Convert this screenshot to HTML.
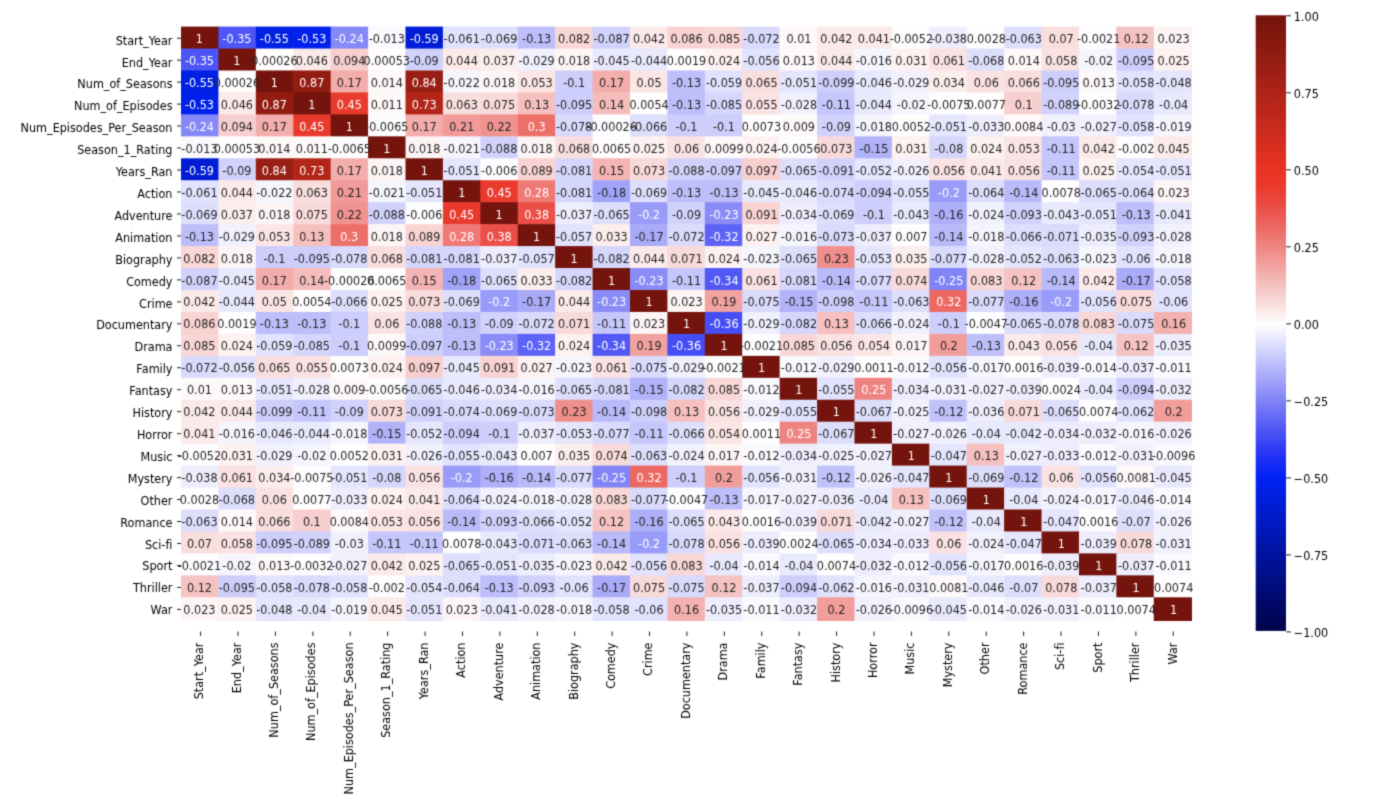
<!DOCTYPE html>
<html><head><meta charset="utf-8"><title>Correlation heatmap</title>
<style>html,body{margin:0;padding:0;background:#fff}svg{display:block}text{font-variant-ligatures:none;font-feature-settings:"liga" 0,"clig" 0}</style></head>
<body>
<svg width="1392" height="812" viewBox="0 0 1392 812" font-family="'DejaVu Sans', 'Liberation Sans', sans-serif" font-size="11.25px">
<defs><filter id="soft" x="0" y="0" width="100%" height="100%" color-interpolation-filters="sRGB"><feConvolveMatrix order="3" kernelMatrix="0.02560 0.10880 0.02560 0.10880 0.46240 0.10880 0.02560 0.10880 0.02560" divisor="1" edgeMode="duplicate" preserveAlpha="true"/></filter>
<linearGradient id="cb" x1="0" y1="0" x2="0" y2="1">
<stop offset="0.00000" stop-color="#74140c"/>
<stop offset="0.00781" stop-color="#76150c"/>
<stop offset="0.01562" stop-color="#7a160d"/>
<stop offset="0.02344" stop-color="#7e170e"/>
<stop offset="0.03125" stop-color="#81180e"/>
<stop offset="0.03906" stop-color="#85190f"/>
<stop offset="0.04688" stop-color="#891910"/>
<stop offset="0.05469" stop-color="#8c1a10"/>
<stop offset="0.06250" stop-color="#901b11"/>
<stop offset="0.07031" stop-color="#941c12"/>
<stop offset="0.07812" stop-color="#971d13"/>
<stop offset="0.08594" stop-color="#9b1e13"/>
<stop offset="0.09375" stop-color="#9f1f14"/>
<stop offset="0.10156" stop-color="#a32015"/>
<stop offset="0.10938" stop-color="#a62116"/>
<stop offset="0.11719" stop-color="#aa2216"/>
<stop offset="0.12500" stop-color="#ae2317"/>
<stop offset="0.13281" stop-color="#b12418"/>
<stop offset="0.14062" stop-color="#b52519"/>
<stop offset="0.14844" stop-color="#b92619"/>
<stop offset="0.15625" stop-color="#bc271a"/>
<stop offset="0.16406" stop-color="#c0281b"/>
<stop offset="0.17188" stop-color="#c4291b"/>
<stop offset="0.17969" stop-color="#c72a1c"/>
<stop offset="0.18750" stop-color="#cb2b1d"/>
<stop offset="0.19531" stop-color="#cf2c1e"/>
<stop offset="0.20312" stop-color="#d22d1e"/>
<stop offset="0.21094" stop-color="#d62e1f"/>
<stop offset="0.21875" stop-color="#da2f20"/>
<stop offset="0.22656" stop-color="#de3021"/>
<stop offset="0.23438" stop-color="#e13121"/>
<stop offset="0.24219" stop-color="#e53222"/>
<stop offset="0.25000" stop-color="#e93323"/>
<stop offset="0.25781" stop-color="#ea3425"/>
<stop offset="0.26562" stop-color="#ea3628"/>
<stop offset="0.27344" stop-color="#ea392b"/>
<stop offset="0.28125" stop-color="#ea3c2f"/>
<stop offset="0.28906" stop-color="#ea4035"/>
<stop offset="0.29688" stop-color="#eb443a"/>
<stop offset="0.30469" stop-color="#eb4940"/>
<stop offset="0.31250" stop-color="#eb4f47"/>
<stop offset="0.32031" stop-color="#eb554e"/>
<stop offset="0.32812" stop-color="#ec5b55"/>
<stop offset="0.33594" stop-color="#ec625c"/>
<stop offset="0.34375" stop-color="#ec6863"/>
<stop offset="0.35156" stop-color="#ed6f6a"/>
<stop offset="0.35938" stop-color="#ed7672"/>
<stop offset="0.36719" stop-color="#ee7d79"/>
<stop offset="0.37500" stop-color="#ee8481"/>
<stop offset="0.38281" stop-color="#ef8b88"/>
<stop offset="0.39062" stop-color="#f09390"/>
<stop offset="0.39844" stop-color="#f19a98"/>
<stop offset="0.40625" stop-color="#f1a29f"/>
<stop offset="0.41406" stop-color="#f2a9a7"/>
<stop offset="0.42188" stop-color="#f3b1af"/>
<stop offset="0.42969" stop-color="#f4b8b7"/>
<stop offset="0.43750" stop-color="#f5c0be"/>
<stop offset="0.44531" stop-color="#f6c7c6"/>
<stop offset="0.45312" stop-color="#f7cfce"/>
<stop offset="0.46094" stop-color="#f8d7d6"/>
<stop offset="0.46875" stop-color="#f9dede"/>
<stop offset="0.47656" stop-color="#fbe6e5"/>
<stop offset="0.48438" stop-color="#fceeed"/>
<stop offset="0.49219" stop-color="#fdf5f5"/>
<stop offset="0.50000" stop-color="#fffdfd"/>
<stop offset="0.50781" stop-color="#f9f9fe"/>
<stop offset="0.51562" stop-color="#f1f1fe"/>
<stop offset="0.52344" stop-color="#e9e9fd"/>
<stop offset="0.53125" stop-color="#e1e2fd"/>
<stop offset="0.53906" stop-color="#d9dafc"/>
<stop offset="0.54688" stop-color="#d1d2fb"/>
<stop offset="0.55469" stop-color="#c9cafb"/>
<stop offset="0.56250" stop-color="#c1c2fa"/>
<stop offset="0.57031" stop-color="#b9bafa"/>
<stop offset="0.57812" stop-color="#b1b3f9"/>
<stop offset="0.58594" stop-color="#a9abf9"/>
<stop offset="0.59375" stop-color="#a1a3f8"/>
<stop offset="0.60156" stop-color="#999bf8"/>
<stop offset="0.60938" stop-color="#9194f8"/>
<stop offset="0.61719" stop-color="#898cf7"/>
<stop offset="0.62500" stop-color="#8184f7"/>
<stop offset="0.63281" stop-color="#797df7"/>
<stop offset="0.64062" stop-color="#7175f6"/>
<stop offset="0.64844" stop-color="#696ef6"/>
<stop offset="0.65625" stop-color="#6167f6"/>
<stop offset="0.66406" stop-color="#595ff6"/>
<stop offset="0.67188" stop-color="#5158f6"/>
<stop offset="0.67969" stop-color="#4951f5"/>
<stop offset="0.68750" stop-color="#414af5"/>
<stop offset="0.69531" stop-color="#3944f5"/>
<stop offset="0.70312" stop-color="#313df5"/>
<stop offset="0.71094" stop-color="#2937f5"/>
<stop offset="0.71875" stop-color="#2132f5"/>
<stop offset="0.72656" stop-color="#192df5"/>
<stop offset="0.73438" stop-color="#1129f5"/>
<stop offset="0.74219" stop-color="#0926f5"/>
<stop offset="0.75000" stop-color="#0123f5"/>
<stop offset="0.75781" stop-color="#0022f0"/>
<stop offset="0.76562" stop-color="#0021eb"/>
<stop offset="0.77344" stop-color="#0020e5"/>
<stop offset="0.78125" stop-color="#001fe0"/>
<stop offset="0.78906" stop-color="#001eda"/>
<stop offset="0.79688" stop-color="#001dd5"/>
<stop offset="0.80469" stop-color="#001cd0"/>
<stop offset="0.81250" stop-color="#001bca"/>
<stop offset="0.82031" stop-color="#001ac5"/>
<stop offset="0.82812" stop-color="#0019c0"/>
<stop offset="0.83594" stop-color="#0018ba"/>
<stop offset="0.84375" stop-color="#0017b5"/>
<stop offset="0.85156" stop-color="#0016af"/>
<stop offset="0.85938" stop-color="#0015aa"/>
<stop offset="0.86719" stop-color="#0014a5"/>
<stop offset="0.87500" stop-color="#00139f"/>
<stop offset="0.88281" stop-color="#00129a"/>
<stop offset="0.89062" stop-color="#001194"/>
<stop offset="0.89844" stop-color="#00108f"/>
<stop offset="0.90625" stop-color="#000f8a"/>
<stop offset="0.91406" stop-color="#000e84"/>
<stop offset="0.92188" stop-color="#000d7f"/>
<stop offset="0.92969" stop-color="#000c7a"/>
<stop offset="0.93750" stop-color="#000b74"/>
<stop offset="0.94531" stop-color="#000a6f"/>
<stop offset="0.95312" stop-color="#000969"/>
<stop offset="0.96094" stop-color="#000864"/>
<stop offset="0.96875" stop-color="#00075f"/>
<stop offset="0.97656" stop-color="#000659"/>
<stop offset="0.98438" stop-color="#000554"/>
<stop offset="0.99219" stop-color="#00054e"/>
<stop offset="1.00000" stop-color="#000449"/>
</linearGradient></defs>
<g filter="url(#soft)">
<rect width="1392" height="812" fill="#fff"/>
<g>
<rect x="181.00" y="26.60" width="38.01" height="22.55" fill="#74140c"/>
<rect x="218.41" y="26.60" width="38.01" height="22.55" fill="#4d55f6"/>
<rect x="255.83" y="26.60" width="38.02" height="22.55" fill="#0020e3"/>
<rect x="293.25" y="26.60" width="38.01" height="22.55" fill="#0021eb"/>
<rect x="330.66" y="26.60" width="38.02" height="22.55" fill="#8588f7"/>
<rect x="368.07" y="26.60" width="38.02" height="22.55" fill="#f9f9fe"/>
<rect x="405.49" y="26.60" width="38.01" height="22.55" fill="#001dd5"/>
<rect x="442.90" y="26.60" width="38.02" height="22.55" fill="#e1e2fd"/>
<rect x="480.32" y="26.60" width="38.02" height="22.55" fill="#dddefc"/>
<rect x="517.74" y="26.60" width="38.01" height="22.55" fill="#bdbefa"/>
<rect x="555.15" y="26.60" width="38.02" height="22.55" fill="#f8d7d6"/>
<rect x="592.57" y="26.60" width="38.01" height="22.55" fill="#d1d2fb"/>
<rect x="629.98" y="26.60" width="38.01" height="22.55" fill="#fbeae9"/>
<rect x="667.39" y="26.60" width="38.01" height="22.55" fill="#f8d3d2"/>
<rect x="704.81" y="26.60" width="38.02" height="22.55" fill="#f8d7d6"/>
<rect x="742.23" y="26.60" width="38.01" height="22.55" fill="#d9dafc"/>
<rect x="779.64" y="26.60" width="38.01" height="22.55" fill="#fef9f9"/>
<rect x="817.05" y="26.60" width="38.02" height="22.55" fill="#fbeae9"/>
<rect x="854.47" y="26.60" width="38.01" height="22.55" fill="#fbeae9"/>
<rect x="891.88" y="26.60" width="38.01" height="22.55" fill="#fdfdff"/>
<rect x="929.30" y="26.60" width="38.02" height="22.55" fill="#ededfd"/>
<rect x="966.72" y="26.60" width="38.01" height="22.55" fill="#fffdfd"/>
<rect x="1004.13" y="26.60" width="38.02" height="22.55" fill="#dddefc"/>
<rect x="1041.55" y="26.60" width="38.01" height="22.55" fill="#f9dede"/>
<rect x="1078.96" y="26.60" width="38.01" height="22.55" fill="#fdfdff"/>
<rect x="1116.38" y="26.60" width="38.01" height="22.55" fill="#f5c3c2"/>
<rect x="1153.79" y="26.60" width="38.21" height="22.55" fill="#fdf5f5"/>
<rect x="181.00" y="48.55" width="38.01" height="22.55" fill="#4d55f6"/>
<rect x="218.41" y="48.55" width="38.01" height="22.55" fill="#74140c"/>
<rect x="255.83" y="48.55" width="38.02" height="22.55" fill="#fffdfd"/>
<rect x="293.25" y="48.55" width="38.01" height="22.55" fill="#fbeae9"/>
<rect x="330.66" y="48.55" width="38.02" height="22.55" fill="#f7cfce"/>
<rect x="368.07" y="48.55" width="38.02" height="22.55" fill="#fffdfd"/>
<rect x="405.49" y="48.55" width="38.01" height="22.55" fill="#d1d2fb"/>
<rect x="442.90" y="48.55" width="38.02" height="22.55" fill="#fbeae9"/>
<rect x="480.32" y="48.55" width="38.02" height="22.55" fill="#fceeed"/>
<rect x="517.74" y="48.55" width="38.01" height="22.55" fill="#f1f1fe"/>
<rect x="555.15" y="48.55" width="38.02" height="22.55" fill="#fdf5f5"/>
<rect x="592.57" y="48.55" width="38.01" height="22.55" fill="#e9e9fd"/>
<rect x="629.98" y="48.55" width="38.01" height="22.55" fill="#e9e9fd"/>
<rect x="667.39" y="48.55" width="38.01" height="22.55" fill="#fffdfd"/>
<rect x="704.81" y="48.55" width="38.02" height="22.55" fill="#fdf1f1"/>
<rect x="742.23" y="48.55" width="38.01" height="22.55" fill="#e1e2fd"/>
<rect x="779.64" y="48.55" width="38.01" height="22.55" fill="#fef9f9"/>
<rect x="817.05" y="48.55" width="38.02" height="22.55" fill="#fbeae9"/>
<rect x="854.47" y="48.55" width="38.01" height="22.55" fill="#f5f5fe"/>
<rect x="891.88" y="48.55" width="38.01" height="22.55" fill="#fdf1f1"/>
<rect x="929.30" y="48.55" width="38.02" height="22.55" fill="#fae2e2"/>
<rect x="966.72" y="48.55" width="38.01" height="22.55" fill="#dddefc"/>
<rect x="1004.13" y="48.55" width="38.02" height="22.55" fill="#fef9f9"/>
<rect x="1041.55" y="48.55" width="38.01" height="22.55" fill="#fae2e2"/>
<rect x="1078.96" y="48.55" width="38.01" height="22.55" fill="#f5f5fe"/>
<rect x="1116.38" y="48.55" width="38.01" height="22.55" fill="#cdcefb"/>
<rect x="1153.79" y="48.55" width="38.21" height="22.55" fill="#fdf1f1"/>
<rect x="181.00" y="70.50" width="38.01" height="22.55" fill="#0020e3"/>
<rect x="218.41" y="70.50" width="38.01" height="22.55" fill="#fffdfd"/>
<rect x="255.83" y="70.50" width="38.02" height="22.55" fill="#74140c"/>
<rect x="293.25" y="70.50" width="38.01" height="22.55" fill="#921c12"/>
<rect x="330.66" y="70.50" width="38.02" height="22.55" fill="#f3adab"/>
<rect x="368.07" y="70.50" width="38.02" height="22.55" fill="#fef9f9"/>
<rect x="405.49" y="70.50" width="38.01" height="22.55" fill="#991e13"/>
<rect x="442.90" y="70.50" width="38.02" height="22.55" fill="#f5f5fe"/>
<rect x="480.32" y="70.50" width="38.02" height="22.55" fill="#fdf5f5"/>
<rect x="517.74" y="70.50" width="38.01" height="22.55" fill="#fbe6e5"/>
<rect x="555.15" y="70.50" width="38.02" height="22.55" fill="#cdcefb"/>
<rect x="592.57" y="70.50" width="38.01" height="22.55" fill="#f3adab"/>
<rect x="629.98" y="70.50" width="38.01" height="22.55" fill="#fbe6e5"/>
<rect x="667.39" y="70.50" width="38.01" height="22.55" fill="#bdbefa"/>
<rect x="704.81" y="70.50" width="38.02" height="22.55" fill="#e1e2fd"/>
<rect x="742.23" y="70.50" width="38.01" height="22.55" fill="#f9dede"/>
<rect x="779.64" y="70.50" width="38.01" height="22.55" fill="#e5e5fd"/>
<rect x="817.05" y="70.50" width="38.02" height="22.55" fill="#cdcefb"/>
<rect x="854.47" y="70.50" width="38.01" height="22.55" fill="#e9e9fd"/>
<rect x="891.88" y="70.50" width="38.01" height="22.55" fill="#f1f1fe"/>
<rect x="929.30" y="70.50" width="38.02" height="22.55" fill="#fceeed"/>
<rect x="966.72" y="70.50" width="38.01" height="22.55" fill="#fae2e2"/>
<rect x="1004.13" y="70.50" width="38.02" height="22.55" fill="#f9dede"/>
<rect x="1041.55" y="70.50" width="38.01" height="22.55" fill="#cdcefb"/>
<rect x="1078.96" y="70.50" width="38.01" height="22.55" fill="#fef9f9"/>
<rect x="1116.38" y="70.50" width="38.01" height="22.55" fill="#e1e2fd"/>
<rect x="1153.79" y="70.50" width="38.21" height="22.55" fill="#e5e5fd"/>
<rect x="181.00" y="92.45" width="38.01" height="22.55" fill="#0021eb"/>
<rect x="218.41" y="92.45" width="38.01" height="22.55" fill="#fbeae9"/>
<rect x="255.83" y="92.45" width="38.02" height="22.55" fill="#921c12"/>
<rect x="293.25" y="92.45" width="38.01" height="22.55" fill="#74140c"/>
<rect x="330.66" y="92.45" width="38.02" height="22.55" fill="#ea3a2d"/>
<rect x="368.07" y="92.45" width="38.02" height="22.55" fill="#fef9f9"/>
<rect x="405.49" y="92.45" width="38.01" height="22.55" fill="#b32518"/>
<rect x="442.90" y="92.45" width="38.02" height="22.55" fill="#f9dede"/>
<rect x="480.32" y="92.45" width="38.02" height="22.55" fill="#f9dada"/>
<rect x="517.74" y="92.45" width="38.01" height="22.55" fill="#f5c0be"/>
<rect x="555.15" y="92.45" width="38.02" height="22.55" fill="#cdcefb"/>
<rect x="592.57" y="92.45" width="38.01" height="22.55" fill="#f4bcba"/>
<rect x="629.98" y="92.45" width="38.01" height="22.55" fill="#fffdfd"/>
<rect x="667.39" y="92.45" width="38.01" height="22.55" fill="#bdbefa"/>
<rect x="704.81" y="92.45" width="38.02" height="22.55" fill="#d5d6fc"/>
<rect x="742.23" y="92.45" width="38.01" height="22.55" fill="#fae2e2"/>
<rect x="779.64" y="92.45" width="38.01" height="22.55" fill="#f1f1fe"/>
<rect x="817.05" y="92.45" width="38.02" height="22.55" fill="#c5c6fb"/>
<rect x="854.47" y="92.45" width="38.01" height="22.55" fill="#e9e9fd"/>
<rect x="891.88" y="92.45" width="38.01" height="22.55" fill="#f5f5fe"/>
<rect x="929.30" y="92.45" width="38.02" height="22.55" fill="#fdfdff"/>
<rect x="966.72" y="92.45" width="38.01" height="22.55" fill="#fffdfd"/>
<rect x="1004.13" y="92.45" width="38.02" height="22.55" fill="#f7cfce"/>
<rect x="1041.55" y="92.45" width="38.01" height="22.55" fill="#d1d2fb"/>
<rect x="1078.96" y="92.45" width="38.01" height="22.55" fill="#fdfdff"/>
<rect x="1116.38" y="92.45" width="38.01" height="22.55" fill="#d9dafc"/>
<rect x="1153.79" y="92.45" width="38.21" height="22.55" fill="#e9e9fd"/>
<rect x="181.00" y="114.40" width="38.01" height="22.55" fill="#8588f7"/>
<rect x="218.41" y="114.40" width="38.01" height="22.55" fill="#f7cfce"/>
<rect x="255.83" y="114.40" width="38.02" height="22.55" fill="#f3adab"/>
<rect x="293.25" y="114.40" width="38.01" height="22.55" fill="#ea3a2d"/>
<rect x="330.66" y="114.40" width="38.02" height="22.55" fill="#74140c"/>
<rect x="368.07" y="114.40" width="38.02" height="22.55" fill="#fdfdff"/>
<rect x="405.49" y="114.40" width="38.01" height="22.55" fill="#f3adab"/>
<rect x="442.90" y="114.40" width="38.02" height="22.55" fill="#f19a98"/>
<rect x="480.32" y="114.40" width="38.02" height="22.55" fill="#f09390"/>
<rect x="517.74" y="114.40" width="38.01" height="22.55" fill="#ed6f6a"/>
<rect x="555.15" y="114.40" width="38.02" height="22.55" fill="#d9dafc"/>
<rect x="592.57" y="114.40" width="38.01" height="22.55" fill="#fdfdff"/>
<rect x="629.98" y="114.40" width="38.01" height="22.55" fill="#dddefc"/>
<rect x="667.39" y="114.40" width="38.01" height="22.55" fill="#cdcefb"/>
<rect x="704.81" y="114.40" width="38.02" height="22.55" fill="#cdcefb"/>
<rect x="742.23" y="114.40" width="38.01" height="22.55" fill="#fffdfd"/>
<rect x="779.64" y="114.40" width="38.01" height="22.55" fill="#fef9f9"/>
<rect x="817.05" y="114.40" width="38.02" height="22.55" fill="#d1d2fb"/>
<rect x="854.47" y="114.40" width="38.01" height="22.55" fill="#f5f5fe"/>
<rect x="891.88" y="114.40" width="38.01" height="22.55" fill="#fffdfd"/>
<rect x="929.30" y="114.40" width="38.02" height="22.55" fill="#e5e5fd"/>
<rect x="966.72" y="114.40" width="38.01" height="22.55" fill="#ededfd"/>
<rect x="1004.13" y="114.40" width="38.02" height="22.55" fill="#fef9f9"/>
<rect x="1041.55" y="114.40" width="38.01" height="22.55" fill="#f1f1fe"/>
<rect x="1078.96" y="114.40" width="38.01" height="22.55" fill="#f1f1fe"/>
<rect x="1116.38" y="114.40" width="38.01" height="22.55" fill="#e1e2fd"/>
<rect x="1153.79" y="114.40" width="38.21" height="22.55" fill="#f5f5fe"/>
<rect x="181.00" y="136.35" width="38.01" height="22.55" fill="#f9f9fe"/>
<rect x="218.41" y="136.35" width="38.01" height="22.55" fill="#fffdfd"/>
<rect x="255.83" y="136.35" width="38.02" height="22.55" fill="#fef9f9"/>
<rect x="293.25" y="136.35" width="38.01" height="22.55" fill="#fef9f9"/>
<rect x="330.66" y="136.35" width="38.02" height="22.55" fill="#fdfdff"/>
<rect x="368.07" y="136.35" width="38.02" height="22.55" fill="#74140c"/>
<rect x="405.49" y="136.35" width="38.01" height="22.55" fill="#fdf5f5"/>
<rect x="442.90" y="136.35" width="38.02" height="22.55" fill="#f5f5fe"/>
<rect x="480.32" y="136.35" width="38.02" height="22.55" fill="#d1d2fb"/>
<rect x="517.74" y="136.35" width="38.01" height="22.55" fill="#fdf5f5"/>
<rect x="555.15" y="136.35" width="38.02" height="22.55" fill="#f9dede"/>
<rect x="592.57" y="136.35" width="38.01" height="22.55" fill="#fffdfd"/>
<rect x="629.98" y="136.35" width="38.01" height="22.55" fill="#fdf1f1"/>
<rect x="667.39" y="136.35" width="38.01" height="22.55" fill="#fae2e2"/>
<rect x="704.81" y="136.35" width="38.02" height="22.55" fill="#fef9f9"/>
<rect x="742.23" y="136.35" width="38.01" height="22.55" fill="#fdf1f1"/>
<rect x="779.64" y="136.35" width="38.01" height="22.55" fill="#fdfdff"/>
<rect x="817.05" y="136.35" width="38.02" height="22.55" fill="#f9dada"/>
<rect x="854.47" y="136.35" width="38.01" height="22.55" fill="#b1b3f9"/>
<rect x="891.88" y="136.35" width="38.01" height="22.55" fill="#fdf1f1"/>
<rect x="929.30" y="136.35" width="38.02" height="22.55" fill="#d5d6fc"/>
<rect x="966.72" y="136.35" width="38.01" height="22.55" fill="#fdf1f1"/>
<rect x="1004.13" y="136.35" width="38.02" height="22.55" fill="#fbe6e5"/>
<rect x="1041.55" y="136.35" width="38.01" height="22.55" fill="#c5c6fb"/>
<rect x="1078.96" y="136.35" width="38.01" height="22.55" fill="#fbeae9"/>
<rect x="1116.38" y="136.35" width="38.01" height="22.55" fill="#fdfdff"/>
<rect x="1153.79" y="136.35" width="38.21" height="22.55" fill="#fbeae9"/>
<rect x="181.00" y="158.30" width="38.01" height="22.55" fill="#001dd5"/>
<rect x="218.41" y="158.30" width="38.01" height="22.55" fill="#d1d2fb"/>
<rect x="255.83" y="158.30" width="38.02" height="22.55" fill="#991e13"/>
<rect x="293.25" y="158.30" width="38.01" height="22.55" fill="#b32518"/>
<rect x="330.66" y="158.30" width="38.02" height="22.55" fill="#f3adab"/>
<rect x="368.07" y="158.30" width="38.02" height="22.55" fill="#fdf5f5"/>
<rect x="405.49" y="158.30" width="38.01" height="22.55" fill="#74140c"/>
<rect x="442.90" y="158.30" width="38.02" height="22.55" fill="#e5e5fd"/>
<rect x="480.32" y="158.30" width="38.02" height="22.55" fill="#fdfdff"/>
<rect x="517.74" y="158.30" width="38.01" height="22.55" fill="#f8d3d2"/>
<rect x="555.15" y="158.30" width="38.02" height="22.55" fill="#d5d6fc"/>
<rect x="592.57" y="158.30" width="38.01" height="22.55" fill="#f4b4b3"/>
<rect x="629.98" y="158.30" width="38.01" height="22.55" fill="#f9dada"/>
<rect x="667.39" y="158.30" width="38.01" height="22.55" fill="#d1d2fb"/>
<rect x="704.81" y="158.30" width="38.02" height="22.55" fill="#cdcefb"/>
<rect x="742.23" y="158.30" width="38.01" height="22.55" fill="#f7cfce"/>
<rect x="779.64" y="158.30" width="38.01" height="22.55" fill="#dddefc"/>
<rect x="817.05" y="158.30" width="38.02" height="22.55" fill="#d1d2fb"/>
<rect x="854.47" y="158.30" width="38.01" height="22.55" fill="#e5e5fd"/>
<rect x="891.88" y="158.30" width="38.01" height="22.55" fill="#f1f1fe"/>
<rect x="929.30" y="158.30" width="38.02" height="22.55" fill="#fae2e2"/>
<rect x="966.72" y="158.30" width="38.01" height="22.55" fill="#fbeae9"/>
<rect x="1004.13" y="158.30" width="38.02" height="22.55" fill="#fae2e2"/>
<rect x="1041.55" y="158.30" width="38.01" height="22.55" fill="#c5c6fb"/>
<rect x="1078.96" y="158.30" width="38.01" height="22.55" fill="#fdf1f1"/>
<rect x="1116.38" y="158.30" width="38.01" height="22.55" fill="#e5e5fd"/>
<rect x="1153.79" y="158.30" width="38.21" height="22.55" fill="#e5e5fd"/>
<rect x="181.00" y="180.25" width="38.01" height="22.55" fill="#e1e2fd"/>
<rect x="218.41" y="180.25" width="38.01" height="22.55" fill="#fbeae9"/>
<rect x="255.83" y="180.25" width="38.02" height="22.55" fill="#f5f5fe"/>
<rect x="293.25" y="180.25" width="38.01" height="22.55" fill="#f9dede"/>
<rect x="330.66" y="180.25" width="38.02" height="22.55" fill="#f19a98"/>
<rect x="368.07" y="180.25" width="38.02" height="22.55" fill="#f5f5fe"/>
<rect x="405.49" y="180.25" width="38.01" height="22.55" fill="#e5e5fd"/>
<rect x="442.90" y="180.25" width="38.02" height="22.55" fill="#74140c"/>
<rect x="480.32" y="180.25" width="38.02" height="22.55" fill="#ea3a2d"/>
<rect x="517.74" y="180.25" width="38.01" height="22.55" fill="#ee7975"/>
<rect x="555.15" y="180.25" width="38.02" height="22.55" fill="#d5d6fc"/>
<rect x="592.57" y="180.25" width="38.01" height="22.55" fill="#a1a3f8"/>
<rect x="629.98" y="180.25" width="38.01" height="22.55" fill="#dddefc"/>
<rect x="667.39" y="180.25" width="38.01" height="22.55" fill="#bdbefa"/>
<rect x="704.81" y="180.25" width="38.02" height="22.55" fill="#bdbefa"/>
<rect x="742.23" y="180.25" width="38.01" height="22.55" fill="#e9e9fd"/>
<rect x="779.64" y="180.25" width="38.01" height="22.55" fill="#e9e9fd"/>
<rect x="817.05" y="180.25" width="38.02" height="22.55" fill="#d9dafc"/>
<rect x="854.47" y="180.25" width="38.01" height="22.55" fill="#cdcefb"/>
<rect x="891.88" y="180.25" width="38.01" height="22.55" fill="#e1e2fd"/>
<rect x="929.30" y="180.25" width="38.02" height="22.55" fill="#999bf8"/>
<rect x="966.72" y="180.25" width="38.01" height="22.55" fill="#dddefc"/>
<rect x="1004.13" y="180.25" width="38.02" height="22.55" fill="#b9bafa"/>
<rect x="1041.55" y="180.25" width="38.01" height="22.55" fill="#fffdfd"/>
<rect x="1078.96" y="180.25" width="38.01" height="22.55" fill="#dddefc"/>
<rect x="1116.38" y="180.25" width="38.01" height="22.55" fill="#dddefc"/>
<rect x="1153.79" y="180.25" width="38.21" height="22.55" fill="#fdf5f5"/>
<rect x="181.00" y="202.20" width="38.01" height="22.55" fill="#dddefc"/>
<rect x="218.41" y="202.20" width="38.01" height="22.55" fill="#fceeed"/>
<rect x="255.83" y="202.20" width="38.02" height="22.55" fill="#fdf5f5"/>
<rect x="293.25" y="202.20" width="38.01" height="22.55" fill="#f9dada"/>
<rect x="330.66" y="202.20" width="38.02" height="22.55" fill="#f09390"/>
<rect x="368.07" y="202.20" width="38.02" height="22.55" fill="#d1d2fb"/>
<rect x="405.49" y="202.20" width="38.01" height="22.55" fill="#fdfdff"/>
<rect x="442.90" y="202.20" width="38.02" height="22.55" fill="#ea3a2d"/>
<rect x="480.32" y="202.20" width="38.02" height="22.55" fill="#74140c"/>
<rect x="517.74" y="202.20" width="38.01" height="22.55" fill="#eb4f47"/>
<rect x="555.15" y="202.20" width="38.02" height="22.55" fill="#ededfd"/>
<rect x="592.57" y="202.20" width="38.01" height="22.55" fill="#dddefc"/>
<rect x="629.98" y="202.20" width="38.01" height="22.55" fill="#999bf8"/>
<rect x="667.39" y="202.20" width="38.01" height="22.55" fill="#d1d2fb"/>
<rect x="704.81" y="202.20" width="38.02" height="22.55" fill="#898cf7"/>
<rect x="742.23" y="202.20" width="38.01" height="22.55" fill="#f8d3d2"/>
<rect x="779.64" y="202.20" width="38.01" height="22.55" fill="#ededfd"/>
<rect x="817.05" y="202.20" width="38.02" height="22.55" fill="#dddefc"/>
<rect x="854.47" y="202.20" width="38.01" height="22.55" fill="#cdcefb"/>
<rect x="891.88" y="202.20" width="38.01" height="22.55" fill="#e9e9fd"/>
<rect x="929.30" y="202.20" width="38.02" height="22.55" fill="#adaff9"/>
<rect x="966.72" y="202.20" width="38.01" height="22.55" fill="#f1f1fe"/>
<rect x="1004.13" y="202.20" width="38.02" height="22.55" fill="#d1d2fb"/>
<rect x="1041.55" y="202.20" width="38.01" height="22.55" fill="#e9e9fd"/>
<rect x="1078.96" y="202.20" width="38.01" height="22.55" fill="#e5e5fd"/>
<rect x="1116.38" y="202.20" width="38.01" height="22.55" fill="#bdbefa"/>
<rect x="1153.79" y="202.20" width="38.21" height="22.55" fill="#e9e9fd"/>
<rect x="181.00" y="224.15" width="38.01" height="22.55" fill="#bdbefa"/>
<rect x="218.41" y="224.15" width="38.01" height="22.55" fill="#f1f1fe"/>
<rect x="255.83" y="224.15" width="38.02" height="22.55" fill="#fbe6e5"/>
<rect x="293.25" y="224.15" width="38.01" height="22.55" fill="#f5c0be"/>
<rect x="330.66" y="224.15" width="38.02" height="22.55" fill="#ed6f6a"/>
<rect x="368.07" y="224.15" width="38.02" height="22.55" fill="#fdf5f5"/>
<rect x="405.49" y="224.15" width="38.01" height="22.55" fill="#f8d3d2"/>
<rect x="442.90" y="224.15" width="38.02" height="22.55" fill="#ee7975"/>
<rect x="480.32" y="224.15" width="38.02" height="22.55" fill="#eb4f47"/>
<rect x="517.74" y="224.15" width="38.01" height="22.55" fill="#74140c"/>
<rect x="555.15" y="224.15" width="38.02" height="22.55" fill="#e1e2fd"/>
<rect x="592.57" y="224.15" width="38.01" height="22.55" fill="#fceeed"/>
<rect x="629.98" y="224.15" width="38.01" height="22.55" fill="#a9abf9"/>
<rect x="667.39" y="224.15" width="38.01" height="22.55" fill="#d9dafc"/>
<rect x="704.81" y="224.15" width="38.02" height="22.55" fill="#5d63f6"/>
<rect x="742.23" y="224.15" width="38.01" height="22.55" fill="#fdf1f1"/>
<rect x="779.64" y="224.15" width="38.01" height="22.55" fill="#f5f5fe"/>
<rect x="817.05" y="224.15" width="38.02" height="22.55" fill="#d9dafc"/>
<rect x="854.47" y="224.15" width="38.01" height="22.55" fill="#ededfd"/>
<rect x="891.88" y="224.15" width="38.01" height="22.55" fill="#fffdfd"/>
<rect x="929.30" y="224.15" width="38.02" height="22.55" fill="#b9bafa"/>
<rect x="966.72" y="224.15" width="38.01" height="22.55" fill="#f5f5fe"/>
<rect x="1004.13" y="224.15" width="38.02" height="22.55" fill="#dddefc"/>
<rect x="1041.55" y="224.15" width="38.01" height="22.55" fill="#d9dafc"/>
<rect x="1078.96" y="224.15" width="38.01" height="22.55" fill="#ededfd"/>
<rect x="1116.38" y="224.15" width="38.01" height="22.55" fill="#d1d2fb"/>
<rect x="1153.79" y="224.15" width="38.21" height="22.55" fill="#f1f1fe"/>
<rect x="181.00" y="246.10" width="38.01" height="22.55" fill="#f8d7d6"/>
<rect x="218.41" y="246.10" width="38.01" height="22.55" fill="#fdf5f5"/>
<rect x="255.83" y="246.10" width="38.02" height="22.55" fill="#cdcefb"/>
<rect x="293.25" y="246.10" width="38.01" height="22.55" fill="#cdcefb"/>
<rect x="330.66" y="246.10" width="38.02" height="22.55" fill="#d9dafc"/>
<rect x="368.07" y="246.10" width="38.02" height="22.55" fill="#f9dede"/>
<rect x="405.49" y="246.10" width="38.01" height="22.55" fill="#d5d6fc"/>
<rect x="442.90" y="246.10" width="38.02" height="22.55" fill="#d5d6fc"/>
<rect x="480.32" y="246.10" width="38.02" height="22.55" fill="#ededfd"/>
<rect x="517.74" y="246.10" width="38.01" height="22.55" fill="#e1e2fd"/>
<rect x="555.15" y="246.10" width="38.02" height="22.55" fill="#74140c"/>
<rect x="592.57" y="246.10" width="38.01" height="22.55" fill="#d5d6fc"/>
<rect x="629.98" y="246.10" width="38.01" height="22.55" fill="#fbeae9"/>
<rect x="667.39" y="246.10" width="38.01" height="22.55" fill="#f9dada"/>
<rect x="704.81" y="246.10" width="38.02" height="22.55" fill="#fdf1f1"/>
<rect x="742.23" y="246.10" width="38.01" height="22.55" fill="#f5f5fe"/>
<rect x="779.64" y="246.10" width="38.01" height="22.55" fill="#dddefc"/>
<rect x="817.05" y="246.10" width="38.02" height="22.55" fill="#ef8f8c"/>
<rect x="854.47" y="246.10" width="38.01" height="22.55" fill="#e5e5fd"/>
<rect x="891.88" y="246.10" width="38.01" height="22.55" fill="#fceeed"/>
<rect x="929.30" y="246.10" width="38.02" height="22.55" fill="#d9dafc"/>
<rect x="966.72" y="246.10" width="38.01" height="22.55" fill="#f1f1fe"/>
<rect x="1004.13" y="246.10" width="38.02" height="22.55" fill="#e5e5fd"/>
<rect x="1041.55" y="246.10" width="38.01" height="22.55" fill="#dddefc"/>
<rect x="1078.96" y="246.10" width="38.01" height="22.55" fill="#f5f5fe"/>
<rect x="1116.38" y="246.10" width="38.01" height="22.55" fill="#e1e2fd"/>
<rect x="1153.79" y="246.10" width="38.21" height="22.55" fill="#f5f5fe"/>
<rect x="181.00" y="268.05" width="38.01" height="22.55" fill="#d1d2fb"/>
<rect x="218.41" y="268.05" width="38.01" height="22.55" fill="#e9e9fd"/>
<rect x="255.83" y="268.05" width="38.02" height="22.55" fill="#f3adab"/>
<rect x="293.25" y="268.05" width="38.01" height="22.55" fill="#f4bcba"/>
<rect x="330.66" y="268.05" width="38.02" height="22.55" fill="#fdfdff"/>
<rect x="368.07" y="268.05" width="38.02" height="22.55" fill="#fffdfd"/>
<rect x="405.49" y="268.05" width="38.01" height="22.55" fill="#f4b4b3"/>
<rect x="442.90" y="268.05" width="38.02" height="22.55" fill="#a1a3f8"/>
<rect x="480.32" y="268.05" width="38.02" height="22.55" fill="#dddefc"/>
<rect x="517.74" y="268.05" width="38.01" height="22.55" fill="#fceeed"/>
<rect x="555.15" y="268.05" width="38.02" height="22.55" fill="#d5d6fc"/>
<rect x="592.57" y="268.05" width="38.01" height="22.55" fill="#74140c"/>
<rect x="629.98" y="268.05" width="38.01" height="22.55" fill="#898cf7"/>
<rect x="667.39" y="268.05" width="38.01" height="22.55" fill="#c5c6fb"/>
<rect x="704.81" y="268.05" width="38.02" height="22.55" fill="#5158f6"/>
<rect x="742.23" y="268.05" width="38.01" height="22.55" fill="#fae2e2"/>
<rect x="779.64" y="268.05" width="38.01" height="22.55" fill="#d5d6fc"/>
<rect x="817.05" y="268.05" width="38.02" height="22.55" fill="#b9bafa"/>
<rect x="854.47" y="268.05" width="38.01" height="22.55" fill="#d9dafc"/>
<rect x="891.88" y="268.05" width="38.01" height="22.55" fill="#f9dada"/>
<rect x="929.30" y="268.05" width="38.02" height="22.55" fill="#8184f7"/>
<rect x="966.72" y="268.05" width="38.01" height="22.55" fill="#f8d7d6"/>
<rect x="1004.13" y="268.05" width="38.02" height="22.55" fill="#f5c3c2"/>
<rect x="1041.55" y="268.05" width="38.01" height="22.55" fill="#b9bafa"/>
<rect x="1078.96" y="268.05" width="38.01" height="22.55" fill="#fbeae9"/>
<rect x="1116.38" y="268.05" width="38.01" height="22.55" fill="#a9abf9"/>
<rect x="1153.79" y="268.05" width="38.21" height="22.55" fill="#e1e2fd"/>
<rect x="181.00" y="290.00" width="38.01" height="22.55" fill="#fbeae9"/>
<rect x="218.41" y="290.00" width="38.01" height="22.55" fill="#e9e9fd"/>
<rect x="255.83" y="290.00" width="38.02" height="22.55" fill="#fbe6e5"/>
<rect x="293.25" y="290.00" width="38.01" height="22.55" fill="#fffdfd"/>
<rect x="330.66" y="290.00" width="38.02" height="22.55" fill="#dddefc"/>
<rect x="368.07" y="290.00" width="38.02" height="22.55" fill="#fdf1f1"/>
<rect x="405.49" y="290.00" width="38.01" height="22.55" fill="#f9dada"/>
<rect x="442.90" y="290.00" width="38.02" height="22.55" fill="#dddefc"/>
<rect x="480.32" y="290.00" width="38.02" height="22.55" fill="#999bf8"/>
<rect x="517.74" y="290.00" width="38.01" height="22.55" fill="#a9abf9"/>
<rect x="555.15" y="290.00" width="38.02" height="22.55" fill="#fbeae9"/>
<rect x="592.57" y="290.00" width="38.01" height="22.55" fill="#898cf7"/>
<rect x="629.98" y="290.00" width="38.01" height="22.55" fill="#74140c"/>
<rect x="667.39" y="290.00" width="38.01" height="22.55" fill="#fdf5f5"/>
<rect x="704.81" y="290.00" width="38.02" height="22.55" fill="#f1a29f"/>
<rect x="742.23" y="290.00" width="38.01" height="22.55" fill="#d9dafc"/>
<rect x="779.64" y="290.00" width="38.01" height="22.55" fill="#b1b3f9"/>
<rect x="817.05" y="290.00" width="38.02" height="22.55" fill="#cdcefb"/>
<rect x="854.47" y="290.00" width="38.01" height="22.55" fill="#c5c6fb"/>
<rect x="891.88" y="290.00" width="38.01" height="22.55" fill="#dddefc"/>
<rect x="929.30" y="290.00" width="38.02" height="22.55" fill="#ec6863"/>
<rect x="966.72" y="290.00" width="38.01" height="22.55" fill="#d9dafc"/>
<rect x="1004.13" y="290.00" width="38.02" height="22.55" fill="#adaff9"/>
<rect x="1041.55" y="290.00" width="38.01" height="22.55" fill="#999bf8"/>
<rect x="1078.96" y="290.00" width="38.01" height="22.55" fill="#e1e2fd"/>
<rect x="1116.38" y="290.00" width="38.01" height="22.55" fill="#f9dada"/>
<rect x="1153.79" y="290.00" width="38.21" height="22.55" fill="#e1e2fd"/>
<rect x="181.00" y="311.95" width="38.01" height="22.55" fill="#f8d3d2"/>
<rect x="218.41" y="311.95" width="38.01" height="22.55" fill="#fffdfd"/>
<rect x="255.83" y="311.95" width="38.02" height="22.55" fill="#bdbefa"/>
<rect x="293.25" y="311.95" width="38.01" height="22.55" fill="#bdbefa"/>
<rect x="330.66" y="311.95" width="38.02" height="22.55" fill="#cdcefb"/>
<rect x="368.07" y="311.95" width="38.02" height="22.55" fill="#fae2e2"/>
<rect x="405.49" y="311.95" width="38.01" height="22.55" fill="#d1d2fb"/>
<rect x="442.90" y="311.95" width="38.02" height="22.55" fill="#bdbefa"/>
<rect x="480.32" y="311.95" width="38.02" height="22.55" fill="#d1d2fb"/>
<rect x="517.74" y="311.95" width="38.01" height="22.55" fill="#d9dafc"/>
<rect x="555.15" y="311.95" width="38.02" height="22.55" fill="#f9dada"/>
<rect x="592.57" y="311.95" width="38.01" height="22.55" fill="#c5c6fb"/>
<rect x="629.98" y="311.95" width="38.01" height="22.55" fill="#fdf5f5"/>
<rect x="667.39" y="311.95" width="38.01" height="22.55" fill="#74140c"/>
<rect x="704.81" y="311.95" width="38.02" height="22.55" fill="#454ef5"/>
<rect x="742.23" y="311.95" width="38.01" height="22.55" fill="#f1f1fe"/>
<rect x="779.64" y="311.95" width="38.01" height="22.55" fill="#d5d6fc"/>
<rect x="817.05" y="311.95" width="38.02" height="22.55" fill="#f5c0be"/>
<rect x="854.47" y="311.95" width="38.01" height="22.55" fill="#dddefc"/>
<rect x="891.88" y="311.95" width="38.01" height="22.55" fill="#f1f1fe"/>
<rect x="929.30" y="311.95" width="38.02" height="22.55" fill="#cdcefb"/>
<rect x="966.72" y="311.95" width="38.01" height="22.55" fill="#fdfdff"/>
<rect x="1004.13" y="311.95" width="38.02" height="22.55" fill="#dddefc"/>
<rect x="1041.55" y="311.95" width="38.01" height="22.55" fill="#d9dafc"/>
<rect x="1078.96" y="311.95" width="38.01" height="22.55" fill="#f8d7d6"/>
<rect x="1116.38" y="311.95" width="38.01" height="22.55" fill="#d9dafc"/>
<rect x="1153.79" y="311.95" width="38.21" height="22.55" fill="#f3b1af"/>
<rect x="181.00" y="333.90" width="38.01" height="22.55" fill="#f8d7d6"/>
<rect x="218.41" y="333.90" width="38.01" height="22.55" fill="#fdf1f1"/>
<rect x="255.83" y="333.90" width="38.02" height="22.55" fill="#e1e2fd"/>
<rect x="293.25" y="333.90" width="38.01" height="22.55" fill="#d5d6fc"/>
<rect x="330.66" y="333.90" width="38.02" height="22.55" fill="#cdcefb"/>
<rect x="368.07" y="333.90" width="38.02" height="22.55" fill="#fef9f9"/>
<rect x="405.49" y="333.90" width="38.01" height="22.55" fill="#cdcefb"/>
<rect x="442.90" y="333.90" width="38.02" height="22.55" fill="#bdbefa"/>
<rect x="480.32" y="333.90" width="38.02" height="22.55" fill="#898cf7"/>
<rect x="517.74" y="333.90" width="38.01" height="22.55" fill="#5d63f6"/>
<rect x="555.15" y="333.90" width="38.02" height="22.55" fill="#fdf1f1"/>
<rect x="592.57" y="333.90" width="38.01" height="22.55" fill="#5158f6"/>
<rect x="629.98" y="333.90" width="38.01" height="22.55" fill="#f1a29f"/>
<rect x="667.39" y="333.90" width="38.01" height="22.55" fill="#454ef5"/>
<rect x="704.81" y="333.90" width="38.02" height="22.55" fill="#74140c"/>
<rect x="742.23" y="333.90" width="38.01" height="22.55" fill="#fdfdff"/>
<rect x="779.64" y="333.90" width="38.01" height="22.55" fill="#f8d7d6"/>
<rect x="817.05" y="333.90" width="38.02" height="22.55" fill="#fae2e2"/>
<rect x="854.47" y="333.90" width="38.01" height="22.55" fill="#fbe6e5"/>
<rect x="891.88" y="333.90" width="38.01" height="22.55" fill="#fdf5f5"/>
<rect x="929.30" y="333.90" width="38.02" height="22.55" fill="#f19e9b"/>
<rect x="966.72" y="333.90" width="38.01" height="22.55" fill="#bdbefa"/>
<rect x="1004.13" y="333.90" width="38.02" height="22.55" fill="#fbeae9"/>
<rect x="1041.55" y="333.90" width="38.01" height="22.55" fill="#fae2e2"/>
<rect x="1078.96" y="333.90" width="38.01" height="22.55" fill="#e9e9fd"/>
<rect x="1116.38" y="333.90" width="38.01" height="22.55" fill="#f5c3c2"/>
<rect x="1153.79" y="333.90" width="38.21" height="22.55" fill="#ededfd"/>
<rect x="181.00" y="355.85" width="38.01" height="22.55" fill="#d9dafc"/>
<rect x="218.41" y="355.85" width="38.01" height="22.55" fill="#e1e2fd"/>
<rect x="255.83" y="355.85" width="38.02" height="22.55" fill="#f9dede"/>
<rect x="293.25" y="355.85" width="38.01" height="22.55" fill="#fae2e2"/>
<rect x="330.66" y="355.85" width="38.02" height="22.55" fill="#fffdfd"/>
<rect x="368.07" y="355.85" width="38.02" height="22.55" fill="#fdf1f1"/>
<rect x="405.49" y="355.85" width="38.01" height="22.55" fill="#f7cfce"/>
<rect x="442.90" y="355.85" width="38.02" height="22.55" fill="#e9e9fd"/>
<rect x="480.32" y="355.85" width="38.02" height="22.55" fill="#f8d3d2"/>
<rect x="517.74" y="355.85" width="38.01" height="22.55" fill="#fdf1f1"/>
<rect x="555.15" y="355.85" width="38.02" height="22.55" fill="#f5f5fe"/>
<rect x="592.57" y="355.85" width="38.01" height="22.55" fill="#fae2e2"/>
<rect x="629.98" y="355.85" width="38.01" height="22.55" fill="#d9dafc"/>
<rect x="667.39" y="355.85" width="38.01" height="22.55" fill="#f1f1fe"/>
<rect x="704.81" y="355.85" width="38.02" height="22.55" fill="#fdfdff"/>
<rect x="742.23" y="355.85" width="38.01" height="22.55" fill="#74140c"/>
<rect x="779.64" y="355.85" width="38.01" height="22.55" fill="#f9f9fe"/>
<rect x="817.05" y="355.85" width="38.02" height="22.55" fill="#f1f1fe"/>
<rect x="854.47" y="355.85" width="38.01" height="22.55" fill="#fffdfd"/>
<rect x="891.88" y="355.85" width="38.01" height="22.55" fill="#f9f9fe"/>
<rect x="929.30" y="355.85" width="38.02" height="22.55" fill="#e1e2fd"/>
<rect x="966.72" y="355.85" width="38.01" height="22.55" fill="#f5f5fe"/>
<rect x="1004.13" y="355.85" width="38.02" height="22.55" fill="#fffdfd"/>
<rect x="1041.55" y="355.85" width="38.01" height="22.55" fill="#ededfd"/>
<rect x="1078.96" y="355.85" width="38.01" height="22.55" fill="#f9f9fe"/>
<rect x="1116.38" y="355.85" width="38.01" height="22.55" fill="#ededfd"/>
<rect x="1153.79" y="355.85" width="38.21" height="22.55" fill="#f9f9fe"/>
<rect x="181.00" y="377.80" width="38.01" height="22.55" fill="#fef9f9"/>
<rect x="218.41" y="377.80" width="38.01" height="22.55" fill="#fef9f9"/>
<rect x="255.83" y="377.80" width="38.02" height="22.55" fill="#e5e5fd"/>
<rect x="293.25" y="377.80" width="38.01" height="22.55" fill="#f1f1fe"/>
<rect x="330.66" y="377.80" width="38.02" height="22.55" fill="#fef9f9"/>
<rect x="368.07" y="377.80" width="38.02" height="22.55" fill="#fdfdff"/>
<rect x="405.49" y="377.80" width="38.01" height="22.55" fill="#dddefc"/>
<rect x="442.90" y="377.80" width="38.02" height="22.55" fill="#e9e9fd"/>
<rect x="480.32" y="377.80" width="38.02" height="22.55" fill="#ededfd"/>
<rect x="517.74" y="377.80" width="38.01" height="22.55" fill="#f5f5fe"/>
<rect x="555.15" y="377.80" width="38.02" height="22.55" fill="#dddefc"/>
<rect x="592.57" y="377.80" width="38.01" height="22.55" fill="#d5d6fc"/>
<rect x="629.98" y="377.80" width="38.01" height="22.55" fill="#b1b3f9"/>
<rect x="667.39" y="377.80" width="38.01" height="22.55" fill="#d5d6fc"/>
<rect x="704.81" y="377.80" width="38.02" height="22.55" fill="#f8d7d6"/>
<rect x="742.23" y="377.80" width="38.01" height="22.55" fill="#f9f9fe"/>
<rect x="779.64" y="377.80" width="38.01" height="22.55" fill="#74140c"/>
<rect x="817.05" y="377.80" width="38.02" height="22.55" fill="#e1e2fd"/>
<rect x="854.47" y="377.80" width="38.01" height="22.55" fill="#ee8481"/>
<rect x="891.88" y="377.80" width="38.01" height="22.55" fill="#ededfd"/>
<rect x="929.30" y="377.80" width="38.02" height="22.55" fill="#f1f1fe"/>
<rect x="966.72" y="377.80" width="38.01" height="22.55" fill="#f1f1fe"/>
<rect x="1004.13" y="377.80" width="38.02" height="22.55" fill="#ededfd"/>
<rect x="1041.55" y="377.80" width="38.01" height="22.55" fill="#fffdfd"/>
<rect x="1078.96" y="377.80" width="38.01" height="22.55" fill="#e9e9fd"/>
<rect x="1116.38" y="377.80" width="38.01" height="22.55" fill="#cdcefb"/>
<rect x="1153.79" y="377.80" width="38.21" height="22.55" fill="#ededfd"/>
<rect x="181.00" y="399.75" width="38.01" height="22.55" fill="#fbeae9"/>
<rect x="218.41" y="399.75" width="38.01" height="22.55" fill="#fbeae9"/>
<rect x="255.83" y="399.75" width="38.02" height="22.55" fill="#cdcefb"/>
<rect x="293.25" y="399.75" width="38.01" height="22.55" fill="#c5c6fb"/>
<rect x="330.66" y="399.75" width="38.02" height="22.55" fill="#d1d2fb"/>
<rect x="368.07" y="399.75" width="38.02" height="22.55" fill="#f9dada"/>
<rect x="405.49" y="399.75" width="38.01" height="22.55" fill="#d1d2fb"/>
<rect x="442.90" y="399.75" width="38.02" height="22.55" fill="#d9dafc"/>
<rect x="480.32" y="399.75" width="38.02" height="22.55" fill="#dddefc"/>
<rect x="517.74" y="399.75" width="38.01" height="22.55" fill="#d9dafc"/>
<rect x="555.15" y="399.75" width="38.02" height="22.55" fill="#ef8f8c"/>
<rect x="592.57" y="399.75" width="38.01" height="22.55" fill="#b9bafa"/>
<rect x="629.98" y="399.75" width="38.01" height="22.55" fill="#cdcefb"/>
<rect x="667.39" y="399.75" width="38.01" height="22.55" fill="#f5c0be"/>
<rect x="704.81" y="399.75" width="38.02" height="22.55" fill="#fae2e2"/>
<rect x="742.23" y="399.75" width="38.01" height="22.55" fill="#f1f1fe"/>
<rect x="779.64" y="399.75" width="38.01" height="22.55" fill="#e1e2fd"/>
<rect x="817.05" y="399.75" width="38.02" height="22.55" fill="#74140c"/>
<rect x="854.47" y="399.75" width="38.01" height="22.55" fill="#dddefc"/>
<rect x="891.88" y="399.75" width="38.01" height="22.55" fill="#f1f1fe"/>
<rect x="929.30" y="399.75" width="38.02" height="22.55" fill="#c1c2fa"/>
<rect x="966.72" y="399.75" width="38.01" height="22.55" fill="#ededfd"/>
<rect x="1004.13" y="399.75" width="38.02" height="22.55" fill="#f9dada"/>
<rect x="1041.55" y="399.75" width="38.01" height="22.55" fill="#dddefc"/>
<rect x="1078.96" y="399.75" width="38.01" height="22.55" fill="#fffdfd"/>
<rect x="1116.38" y="399.75" width="38.01" height="22.55" fill="#e1e2fd"/>
<rect x="1153.79" y="399.75" width="38.21" height="22.55" fill="#f19e9b"/>
<rect x="181.00" y="421.70" width="38.01" height="22.55" fill="#fbeae9"/>
<rect x="218.41" y="421.70" width="38.01" height="22.55" fill="#f5f5fe"/>
<rect x="255.83" y="421.70" width="38.02" height="22.55" fill="#e9e9fd"/>
<rect x="293.25" y="421.70" width="38.01" height="22.55" fill="#e9e9fd"/>
<rect x="330.66" y="421.70" width="38.02" height="22.55" fill="#f5f5fe"/>
<rect x="368.07" y="421.70" width="38.02" height="22.55" fill="#b1b3f9"/>
<rect x="405.49" y="421.70" width="38.01" height="22.55" fill="#e5e5fd"/>
<rect x="442.90" y="421.70" width="38.02" height="22.55" fill="#cdcefb"/>
<rect x="480.32" y="421.70" width="38.02" height="22.55" fill="#cdcefb"/>
<rect x="517.74" y="421.70" width="38.01" height="22.55" fill="#ededfd"/>
<rect x="555.15" y="421.70" width="38.02" height="22.55" fill="#e5e5fd"/>
<rect x="592.57" y="421.70" width="38.01" height="22.55" fill="#d9dafc"/>
<rect x="629.98" y="421.70" width="38.01" height="22.55" fill="#c5c6fb"/>
<rect x="667.39" y="421.70" width="38.01" height="22.55" fill="#dddefc"/>
<rect x="704.81" y="421.70" width="38.02" height="22.55" fill="#fbe6e5"/>
<rect x="742.23" y="421.70" width="38.01" height="22.55" fill="#fffdfd"/>
<rect x="779.64" y="421.70" width="38.01" height="22.55" fill="#ee8481"/>
<rect x="817.05" y="421.70" width="38.02" height="22.55" fill="#dddefc"/>
<rect x="854.47" y="421.70" width="38.01" height="22.55" fill="#74140c"/>
<rect x="891.88" y="421.70" width="38.01" height="22.55" fill="#f1f1fe"/>
<rect x="929.30" y="421.70" width="38.02" height="22.55" fill="#f1f1fe"/>
<rect x="966.72" y="421.70" width="38.01" height="22.55" fill="#e9e9fd"/>
<rect x="1004.13" y="421.70" width="38.02" height="22.55" fill="#e9e9fd"/>
<rect x="1041.55" y="421.70" width="38.01" height="22.55" fill="#ededfd"/>
<rect x="1078.96" y="421.70" width="38.01" height="22.55" fill="#ededfd"/>
<rect x="1116.38" y="421.70" width="38.01" height="22.55" fill="#f5f5fe"/>
<rect x="1153.79" y="421.70" width="38.21" height="22.55" fill="#f1f1fe"/>
<rect x="181.00" y="443.65" width="38.01" height="22.55" fill="#fdfdff"/>
<rect x="218.41" y="443.65" width="38.01" height="22.55" fill="#fdf1f1"/>
<rect x="255.83" y="443.65" width="38.02" height="22.55" fill="#f1f1fe"/>
<rect x="293.25" y="443.65" width="38.01" height="22.55" fill="#f5f5fe"/>
<rect x="330.66" y="443.65" width="38.02" height="22.55" fill="#fffdfd"/>
<rect x="368.07" y="443.65" width="38.02" height="22.55" fill="#fdf1f1"/>
<rect x="405.49" y="443.65" width="38.01" height="22.55" fill="#f1f1fe"/>
<rect x="442.90" y="443.65" width="38.02" height="22.55" fill="#e1e2fd"/>
<rect x="480.32" y="443.65" width="38.02" height="22.55" fill="#e9e9fd"/>
<rect x="517.74" y="443.65" width="38.01" height="22.55" fill="#fffdfd"/>
<rect x="555.15" y="443.65" width="38.02" height="22.55" fill="#fceeed"/>
<rect x="592.57" y="443.65" width="38.01" height="22.55" fill="#f9dada"/>
<rect x="629.98" y="443.65" width="38.01" height="22.55" fill="#dddefc"/>
<rect x="667.39" y="443.65" width="38.01" height="22.55" fill="#f1f1fe"/>
<rect x="704.81" y="443.65" width="38.02" height="22.55" fill="#fdf5f5"/>
<rect x="742.23" y="443.65" width="38.01" height="22.55" fill="#f9f9fe"/>
<rect x="779.64" y="443.65" width="38.01" height="22.55" fill="#ededfd"/>
<rect x="817.05" y="443.65" width="38.02" height="22.55" fill="#f1f1fe"/>
<rect x="854.47" y="443.65" width="38.01" height="22.55" fill="#f1f1fe"/>
<rect x="891.88" y="443.65" width="38.01" height="22.55" fill="#74140c"/>
<rect x="929.30" y="443.65" width="38.02" height="22.55" fill="#e5e5fd"/>
<rect x="966.72" y="443.65" width="38.01" height="22.55" fill="#f5c0be"/>
<rect x="1004.13" y="443.65" width="38.02" height="22.55" fill="#f1f1fe"/>
<rect x="1041.55" y="443.65" width="38.01" height="22.55" fill="#ededfd"/>
<rect x="1078.96" y="443.65" width="38.01" height="22.55" fill="#f9f9fe"/>
<rect x="1116.38" y="443.65" width="38.01" height="22.55" fill="#f1f1fe"/>
<rect x="1153.79" y="443.65" width="38.21" height="22.55" fill="#f9f9fe"/>
<rect x="181.00" y="465.60" width="38.01" height="22.55" fill="#ededfd"/>
<rect x="218.41" y="465.60" width="38.01" height="22.55" fill="#fae2e2"/>
<rect x="255.83" y="465.60" width="38.02" height="22.55" fill="#fceeed"/>
<rect x="293.25" y="465.60" width="38.01" height="22.55" fill="#fdfdff"/>
<rect x="330.66" y="465.60" width="38.02" height="22.55" fill="#e5e5fd"/>
<rect x="368.07" y="465.60" width="38.02" height="22.55" fill="#d5d6fc"/>
<rect x="405.49" y="465.60" width="38.01" height="22.55" fill="#fae2e2"/>
<rect x="442.90" y="465.60" width="38.02" height="22.55" fill="#999bf8"/>
<rect x="480.32" y="465.60" width="38.02" height="22.55" fill="#adaff9"/>
<rect x="517.74" y="465.60" width="38.01" height="22.55" fill="#b9bafa"/>
<rect x="555.15" y="465.60" width="38.02" height="22.55" fill="#d9dafc"/>
<rect x="592.57" y="465.60" width="38.01" height="22.55" fill="#8184f7"/>
<rect x="629.98" y="465.60" width="38.01" height="22.55" fill="#ec6863"/>
<rect x="667.39" y="465.60" width="38.01" height="22.55" fill="#cdcefb"/>
<rect x="704.81" y="465.60" width="38.02" height="22.55" fill="#f19e9b"/>
<rect x="742.23" y="465.60" width="38.01" height="22.55" fill="#e1e2fd"/>
<rect x="779.64" y="465.60" width="38.01" height="22.55" fill="#f1f1fe"/>
<rect x="817.05" y="465.60" width="38.02" height="22.55" fill="#c1c2fa"/>
<rect x="854.47" y="465.60" width="38.01" height="22.55" fill="#f1f1fe"/>
<rect x="891.88" y="465.60" width="38.01" height="22.55" fill="#e5e5fd"/>
<rect x="929.30" y="465.60" width="38.02" height="22.55" fill="#74140c"/>
<rect x="966.72" y="465.60" width="38.01" height="22.55" fill="#dddefc"/>
<rect x="1004.13" y="465.60" width="38.02" height="22.55" fill="#c1c2fa"/>
<rect x="1041.55" y="465.60" width="38.01" height="22.55" fill="#fae2e2"/>
<rect x="1078.96" y="465.60" width="38.01" height="22.55" fill="#e1e2fd"/>
<rect x="1116.38" y="465.60" width="38.01" height="22.55" fill="#fef9f9"/>
<rect x="1153.79" y="465.60" width="38.21" height="22.55" fill="#e9e9fd"/>
<rect x="181.00" y="487.55" width="38.01" height="22.55" fill="#fffdfd"/>
<rect x="218.41" y="487.55" width="38.01" height="22.55" fill="#dddefc"/>
<rect x="255.83" y="487.55" width="38.02" height="22.55" fill="#fae2e2"/>
<rect x="293.25" y="487.55" width="38.01" height="22.55" fill="#fffdfd"/>
<rect x="330.66" y="487.55" width="38.02" height="22.55" fill="#ededfd"/>
<rect x="368.07" y="487.55" width="38.02" height="22.55" fill="#fdf1f1"/>
<rect x="405.49" y="487.55" width="38.01" height="22.55" fill="#fbeae9"/>
<rect x="442.90" y="487.55" width="38.02" height="22.55" fill="#dddefc"/>
<rect x="480.32" y="487.55" width="38.02" height="22.55" fill="#f1f1fe"/>
<rect x="517.74" y="487.55" width="38.01" height="22.55" fill="#f5f5fe"/>
<rect x="555.15" y="487.55" width="38.02" height="22.55" fill="#f1f1fe"/>
<rect x="592.57" y="487.55" width="38.01" height="22.55" fill="#f8d7d6"/>
<rect x="629.98" y="487.55" width="38.01" height="22.55" fill="#d9dafc"/>
<rect x="667.39" y="487.55" width="38.01" height="22.55" fill="#fdfdff"/>
<rect x="704.81" y="487.55" width="38.02" height="22.55" fill="#bdbefa"/>
<rect x="742.23" y="487.55" width="38.01" height="22.55" fill="#f5f5fe"/>
<rect x="779.64" y="487.55" width="38.01" height="22.55" fill="#f1f1fe"/>
<rect x="817.05" y="487.55" width="38.02" height="22.55" fill="#ededfd"/>
<rect x="854.47" y="487.55" width="38.01" height="22.55" fill="#e9e9fd"/>
<rect x="891.88" y="487.55" width="38.01" height="22.55" fill="#f5c0be"/>
<rect x="929.30" y="487.55" width="38.02" height="22.55" fill="#dddefc"/>
<rect x="966.72" y="487.55" width="38.01" height="22.55" fill="#74140c"/>
<rect x="1004.13" y="487.55" width="38.02" height="22.55" fill="#e9e9fd"/>
<rect x="1041.55" y="487.55" width="38.01" height="22.55" fill="#f1f1fe"/>
<rect x="1078.96" y="487.55" width="38.01" height="22.55" fill="#f5f5fe"/>
<rect x="1116.38" y="487.55" width="38.01" height="22.55" fill="#e9e9fd"/>
<rect x="1153.79" y="487.55" width="38.21" height="22.55" fill="#f9f9fe"/>
<rect x="181.00" y="509.50" width="38.01" height="22.55" fill="#dddefc"/>
<rect x="218.41" y="509.50" width="38.01" height="22.55" fill="#fef9f9"/>
<rect x="255.83" y="509.50" width="38.02" height="22.55" fill="#f9dede"/>
<rect x="293.25" y="509.50" width="38.01" height="22.55" fill="#f7cfce"/>
<rect x="330.66" y="509.50" width="38.02" height="22.55" fill="#fef9f9"/>
<rect x="368.07" y="509.50" width="38.02" height="22.55" fill="#fbe6e5"/>
<rect x="405.49" y="509.50" width="38.01" height="22.55" fill="#fae2e2"/>
<rect x="442.90" y="509.50" width="38.02" height="22.55" fill="#b9bafa"/>
<rect x="480.32" y="509.50" width="38.02" height="22.55" fill="#d1d2fb"/>
<rect x="517.74" y="509.50" width="38.01" height="22.55" fill="#dddefc"/>
<rect x="555.15" y="509.50" width="38.02" height="22.55" fill="#e5e5fd"/>
<rect x="592.57" y="509.50" width="38.01" height="22.55" fill="#f5c3c2"/>
<rect x="629.98" y="509.50" width="38.01" height="22.55" fill="#adaff9"/>
<rect x="667.39" y="509.50" width="38.01" height="22.55" fill="#dddefc"/>
<rect x="704.81" y="509.50" width="38.02" height="22.55" fill="#fbeae9"/>
<rect x="742.23" y="509.50" width="38.01" height="22.55" fill="#fffdfd"/>
<rect x="779.64" y="509.50" width="38.01" height="22.55" fill="#ededfd"/>
<rect x="817.05" y="509.50" width="38.02" height="22.55" fill="#f9dada"/>
<rect x="854.47" y="509.50" width="38.01" height="22.55" fill="#e9e9fd"/>
<rect x="891.88" y="509.50" width="38.01" height="22.55" fill="#f1f1fe"/>
<rect x="929.30" y="509.50" width="38.02" height="22.55" fill="#c1c2fa"/>
<rect x="966.72" y="509.50" width="38.01" height="22.55" fill="#e9e9fd"/>
<rect x="1004.13" y="509.50" width="38.02" height="22.55" fill="#74140c"/>
<rect x="1041.55" y="509.50" width="38.01" height="22.55" fill="#e5e5fd"/>
<rect x="1078.96" y="509.50" width="38.01" height="22.55" fill="#fffdfd"/>
<rect x="1116.38" y="509.50" width="38.01" height="22.55" fill="#dddefc"/>
<rect x="1153.79" y="509.50" width="38.21" height="22.55" fill="#f1f1fe"/>
<rect x="181.00" y="531.45" width="38.01" height="22.55" fill="#f9dede"/>
<rect x="218.41" y="531.45" width="38.01" height="22.55" fill="#fae2e2"/>
<rect x="255.83" y="531.45" width="38.02" height="22.55" fill="#cdcefb"/>
<rect x="293.25" y="531.45" width="38.01" height="22.55" fill="#d1d2fb"/>
<rect x="330.66" y="531.45" width="38.02" height="22.55" fill="#f1f1fe"/>
<rect x="368.07" y="531.45" width="38.02" height="22.55" fill="#c5c6fb"/>
<rect x="405.49" y="531.45" width="38.01" height="22.55" fill="#c5c6fb"/>
<rect x="442.90" y="531.45" width="38.02" height="22.55" fill="#fffdfd"/>
<rect x="480.32" y="531.45" width="38.02" height="22.55" fill="#e9e9fd"/>
<rect x="517.74" y="531.45" width="38.01" height="22.55" fill="#d9dafc"/>
<rect x="555.15" y="531.45" width="38.02" height="22.55" fill="#dddefc"/>
<rect x="592.57" y="531.45" width="38.01" height="22.55" fill="#b9bafa"/>
<rect x="629.98" y="531.45" width="38.01" height="22.55" fill="#999bf8"/>
<rect x="667.39" y="531.45" width="38.01" height="22.55" fill="#d9dafc"/>
<rect x="704.81" y="531.45" width="38.02" height="22.55" fill="#fae2e2"/>
<rect x="742.23" y="531.45" width="38.01" height="22.55" fill="#ededfd"/>
<rect x="779.64" y="531.45" width="38.01" height="22.55" fill="#fffdfd"/>
<rect x="817.05" y="531.45" width="38.02" height="22.55" fill="#dddefc"/>
<rect x="854.47" y="531.45" width="38.01" height="22.55" fill="#ededfd"/>
<rect x="891.88" y="531.45" width="38.01" height="22.55" fill="#ededfd"/>
<rect x="929.30" y="531.45" width="38.02" height="22.55" fill="#fae2e2"/>
<rect x="966.72" y="531.45" width="38.01" height="22.55" fill="#f1f1fe"/>
<rect x="1004.13" y="531.45" width="38.02" height="22.55" fill="#e5e5fd"/>
<rect x="1041.55" y="531.45" width="38.01" height="22.55" fill="#74140c"/>
<rect x="1078.96" y="531.45" width="38.01" height="22.55" fill="#ededfd"/>
<rect x="1116.38" y="531.45" width="38.01" height="22.55" fill="#f9dada"/>
<rect x="1153.79" y="531.45" width="38.21" height="22.55" fill="#f1f1fe"/>
<rect x="181.00" y="553.40" width="38.01" height="22.55" fill="#fdfdff"/>
<rect x="218.41" y="553.40" width="38.01" height="22.55" fill="#f5f5fe"/>
<rect x="255.83" y="553.40" width="38.02" height="22.55" fill="#fef9f9"/>
<rect x="293.25" y="553.40" width="38.01" height="22.55" fill="#fdfdff"/>
<rect x="330.66" y="553.40" width="38.02" height="22.55" fill="#f1f1fe"/>
<rect x="368.07" y="553.40" width="38.02" height="22.55" fill="#fbeae9"/>
<rect x="405.49" y="553.40" width="38.01" height="22.55" fill="#fdf1f1"/>
<rect x="442.90" y="553.40" width="38.02" height="22.55" fill="#dddefc"/>
<rect x="480.32" y="553.40" width="38.02" height="22.55" fill="#e5e5fd"/>
<rect x="517.74" y="553.40" width="38.01" height="22.55" fill="#ededfd"/>
<rect x="555.15" y="553.40" width="38.02" height="22.55" fill="#f5f5fe"/>
<rect x="592.57" y="553.40" width="38.01" height="22.55" fill="#fbeae9"/>
<rect x="629.98" y="553.40" width="38.01" height="22.55" fill="#e1e2fd"/>
<rect x="667.39" y="553.40" width="38.01" height="22.55" fill="#f8d7d6"/>
<rect x="704.81" y="553.40" width="38.02" height="22.55" fill="#e9e9fd"/>
<rect x="742.23" y="553.40" width="38.01" height="22.55" fill="#f9f9fe"/>
<rect x="779.64" y="553.40" width="38.01" height="22.55" fill="#e9e9fd"/>
<rect x="817.05" y="553.40" width="38.02" height="22.55" fill="#fffdfd"/>
<rect x="854.47" y="553.40" width="38.01" height="22.55" fill="#ededfd"/>
<rect x="891.88" y="553.40" width="38.01" height="22.55" fill="#f9f9fe"/>
<rect x="929.30" y="553.40" width="38.02" height="22.55" fill="#e1e2fd"/>
<rect x="966.72" y="553.40" width="38.01" height="22.55" fill="#f5f5fe"/>
<rect x="1004.13" y="553.40" width="38.02" height="22.55" fill="#fffdfd"/>
<rect x="1041.55" y="553.40" width="38.01" height="22.55" fill="#ededfd"/>
<rect x="1078.96" y="553.40" width="38.01" height="22.55" fill="#74140c"/>
<rect x="1116.38" y="553.40" width="38.01" height="22.55" fill="#ededfd"/>
<rect x="1153.79" y="553.40" width="38.21" height="22.55" fill="#f9f9fe"/>
<rect x="181.00" y="575.35" width="38.01" height="22.55" fill="#f5c3c2"/>
<rect x="218.41" y="575.35" width="38.01" height="22.55" fill="#cdcefb"/>
<rect x="255.83" y="575.35" width="38.02" height="22.55" fill="#e1e2fd"/>
<rect x="293.25" y="575.35" width="38.01" height="22.55" fill="#d9dafc"/>
<rect x="330.66" y="575.35" width="38.02" height="22.55" fill="#e1e2fd"/>
<rect x="368.07" y="575.35" width="38.02" height="22.55" fill="#fdfdff"/>
<rect x="405.49" y="575.35" width="38.01" height="22.55" fill="#e5e5fd"/>
<rect x="442.90" y="575.35" width="38.02" height="22.55" fill="#dddefc"/>
<rect x="480.32" y="575.35" width="38.02" height="22.55" fill="#bdbefa"/>
<rect x="517.74" y="575.35" width="38.01" height="22.55" fill="#d1d2fb"/>
<rect x="555.15" y="575.35" width="38.02" height="22.55" fill="#e1e2fd"/>
<rect x="592.57" y="575.35" width="38.01" height="22.55" fill="#a9abf9"/>
<rect x="629.98" y="575.35" width="38.01" height="22.55" fill="#f9dada"/>
<rect x="667.39" y="575.35" width="38.01" height="22.55" fill="#d9dafc"/>
<rect x="704.81" y="575.35" width="38.02" height="22.55" fill="#f5c3c2"/>
<rect x="742.23" y="575.35" width="38.01" height="22.55" fill="#ededfd"/>
<rect x="779.64" y="575.35" width="38.01" height="22.55" fill="#cdcefb"/>
<rect x="817.05" y="575.35" width="38.02" height="22.55" fill="#e1e2fd"/>
<rect x="854.47" y="575.35" width="38.01" height="22.55" fill="#f5f5fe"/>
<rect x="891.88" y="575.35" width="38.01" height="22.55" fill="#f1f1fe"/>
<rect x="929.30" y="575.35" width="38.02" height="22.55" fill="#fef9f9"/>
<rect x="966.72" y="575.35" width="38.01" height="22.55" fill="#e9e9fd"/>
<rect x="1004.13" y="575.35" width="38.02" height="22.55" fill="#dddefc"/>
<rect x="1041.55" y="575.35" width="38.01" height="22.55" fill="#f9dada"/>
<rect x="1078.96" y="575.35" width="38.01" height="22.55" fill="#ededfd"/>
<rect x="1116.38" y="575.35" width="38.01" height="22.55" fill="#74140c"/>
<rect x="1153.79" y="575.35" width="38.21" height="22.55" fill="#fffdfd"/>
<rect x="181.00" y="597.30" width="38.01" height="23.70" fill="#fdf5f5"/>
<rect x="218.41" y="597.30" width="38.01" height="23.70" fill="#fdf1f1"/>
<rect x="255.83" y="597.30" width="38.02" height="23.70" fill="#e5e5fd"/>
<rect x="293.25" y="597.30" width="38.01" height="23.70" fill="#e9e9fd"/>
<rect x="330.66" y="597.30" width="38.02" height="23.70" fill="#f5f5fe"/>
<rect x="368.07" y="597.30" width="38.02" height="23.70" fill="#fbeae9"/>
<rect x="405.49" y="597.30" width="38.01" height="23.70" fill="#e5e5fd"/>
<rect x="442.90" y="597.30" width="38.02" height="23.70" fill="#fdf5f5"/>
<rect x="480.32" y="597.30" width="38.02" height="23.70" fill="#e9e9fd"/>
<rect x="517.74" y="597.30" width="38.01" height="23.70" fill="#f1f1fe"/>
<rect x="555.15" y="597.30" width="38.02" height="23.70" fill="#f5f5fe"/>
<rect x="592.57" y="597.30" width="38.01" height="23.70" fill="#e1e2fd"/>
<rect x="629.98" y="597.30" width="38.01" height="23.70" fill="#e1e2fd"/>
<rect x="667.39" y="597.30" width="38.01" height="23.70" fill="#f3b1af"/>
<rect x="704.81" y="597.30" width="38.02" height="23.70" fill="#ededfd"/>
<rect x="742.23" y="597.30" width="38.01" height="23.70" fill="#f9f9fe"/>
<rect x="779.64" y="597.30" width="38.01" height="23.70" fill="#ededfd"/>
<rect x="817.05" y="597.30" width="38.02" height="23.70" fill="#f19e9b"/>
<rect x="854.47" y="597.30" width="38.01" height="23.70" fill="#f1f1fe"/>
<rect x="891.88" y="597.30" width="38.01" height="23.70" fill="#f9f9fe"/>
<rect x="929.30" y="597.30" width="38.02" height="23.70" fill="#e9e9fd"/>
<rect x="966.72" y="597.30" width="38.01" height="23.70" fill="#f9f9fe"/>
<rect x="1004.13" y="597.30" width="38.02" height="23.70" fill="#f1f1fe"/>
<rect x="1041.55" y="597.30" width="38.01" height="23.70" fill="#f1f1fe"/>
<rect x="1078.96" y="597.30" width="38.01" height="23.70" fill="#f9f9fe"/>
<rect x="1116.38" y="597.30" width="38.01" height="23.70" fill="#fffdfd"/>
<rect x="1153.79" y="597.30" width="38.21" height="23.70" fill="#74140c"/>
</g>
<g fill="#262626" text-anchor="middle" transform="scale(1,1.05)">
<text x="386.78" y="41.00">-0.013</text>
<text x="461.72" y="41.00">-0.061</text>
<text x="499.19" y="41.00">-0.069</text>
<text x="536.66" y="41.00">-0.13</text>
<text x="574.13" y="41.00">0.082</text>
<text x="611.61" y="41.00">-0.087</text>
<text x="649.08" y="41.00">0.042</text>
<text x="686.54" y="41.00">0.086</text>
<text x="724.01" y="41.00">0.085</text>
<text x="761.48" y="41.00">-0.072</text>
<text x="798.95" y="41.00">0.01</text>
<text x="836.42" y="41.00">0.042</text>
<text x="873.89" y="41.00">0.041</text>
<text x="911.37" y="41.00">-0.0052</text>
<text x="948.84" y="41.00">-0.038</text>
<text x="986.31" y="41.00">0.0028</text>
<text x="1023.77" y="41.00">-0.063</text>
<text x="1061.24" y="41.00">0.07</text>
<text x="1098.71" y="41.00">-0.0021</text>
<text x="1136.18" y="41.00">0.12</text>
<text x="1173.65" y="41.00">0.023</text>
<text x="274.38" y="61.91">0.00026</text>
<text x="311.84" y="61.91">0.046</text>
<text x="349.31" y="61.91">0.094</text>
<text x="386.78" y="61.91">0.00053</text>
<text x="424.25" y="61.91">-0.09</text>
<text x="461.72" y="61.91">0.044</text>
<text x="499.19" y="61.91">0.037</text>
<text x="536.66" y="61.91">-0.029</text>
<text x="574.13" y="61.91">0.018</text>
<text x="611.61" y="61.91">-0.045</text>
<text x="649.08" y="61.91">-0.044</text>
<text x="686.54" y="61.91">0.0019</text>
<text x="724.01" y="61.91">0.024</text>
<text x="761.48" y="61.91">-0.056</text>
<text x="798.95" y="61.91">0.013</text>
<text x="836.42" y="61.91">0.044</text>
<text x="873.89" y="61.91">-0.016</text>
<text x="911.37" y="61.91">0.031</text>
<text x="948.84" y="61.91">0.061</text>
<text x="986.31" y="61.91">-0.068</text>
<text x="1023.77" y="61.91">0.014</text>
<text x="1061.24" y="61.91">0.058</text>
<text x="1098.71" y="61.91">-0.02</text>
<text x="1136.18" y="61.91">-0.095</text>
<text x="1173.65" y="61.91">0.025</text>
<text x="236.90" y="82.82">0.00026</text>
<text x="349.31" y="82.82">0.17</text>
<text x="386.78" y="82.82">0.014</text>
<text x="461.72" y="82.82">-0.022</text>
<text x="499.19" y="82.82">0.018</text>
<text x="536.66" y="82.82">0.053</text>
<text x="574.13" y="82.82">-0.1</text>
<text x="611.61" y="82.82">0.17</text>
<text x="649.08" y="82.82">0.05</text>
<text x="686.54" y="82.82">-0.13</text>
<text x="724.01" y="82.82">-0.059</text>
<text x="761.48" y="82.82">0.065</text>
<text x="798.95" y="82.82">-0.051</text>
<text x="836.42" y="82.82">-0.099</text>
<text x="873.89" y="82.82">-0.046</text>
<text x="911.37" y="82.82">-0.029</text>
<text x="948.84" y="82.82">0.034</text>
<text x="986.31" y="82.82">0.06</text>
<text x="1023.77" y="82.82">0.066</text>
<text x="1061.24" y="82.82">-0.095</text>
<text x="1098.71" y="82.82">0.013</text>
<text x="1136.18" y="82.82">-0.058</text>
<text x="1173.65" y="82.82">-0.048</text>
<text x="236.90" y="103.72">0.046</text>
<text x="386.78" y="103.72">0.011</text>
<text x="461.72" y="103.72">0.063</text>
<text x="499.19" y="103.72">0.075</text>
<text x="536.66" y="103.72">0.13</text>
<text x="574.13" y="103.72">-0.095</text>
<text x="611.61" y="103.72">0.14</text>
<text x="649.08" y="103.72">0.0054</text>
<text x="686.54" y="103.72">-0.13</text>
<text x="724.01" y="103.72">-0.085</text>
<text x="761.48" y="103.72">0.055</text>
<text x="798.95" y="103.72">-0.028</text>
<text x="836.42" y="103.72">-0.11</text>
<text x="873.89" y="103.72">-0.044</text>
<text x="911.37" y="103.72">-0.02</text>
<text x="948.84" y="103.72">-0.0075</text>
<text x="986.31" y="103.72">0.0077</text>
<text x="1023.77" y="103.72">0.1</text>
<text x="1061.24" y="103.72">-0.089</text>
<text x="1098.71" y="103.72">-0.0032</text>
<text x="1136.18" y="103.72">-0.078</text>
<text x="1173.65" y="103.72">-0.04</text>
<text x="236.90" y="124.63">0.094</text>
<text x="274.38" y="124.63">0.17</text>
<text x="386.78" y="124.63">-0.0065</text>
<text x="424.25" y="124.63">0.17</text>
<text x="461.72" y="124.63">0.21</text>
<text x="499.19" y="124.63">0.22</text>
<text x="574.13" y="124.63">-0.078</text>
<text x="611.61" y="124.63">-0.00026</text>
<text x="649.08" y="124.63">-0.066</text>
<text x="686.54" y="124.63">-0.1</text>
<text x="724.01" y="124.63">-0.1</text>
<text x="761.48" y="124.63">0.0073</text>
<text x="798.95" y="124.63">0.009</text>
<text x="836.42" y="124.63">-0.09</text>
<text x="873.89" y="124.63">-0.018</text>
<text x="911.37" y="124.63">0.0052</text>
<text x="948.84" y="124.63">-0.051</text>
<text x="986.31" y="124.63">-0.033</text>
<text x="1023.77" y="124.63">0.0084</text>
<text x="1061.24" y="124.63">-0.03</text>
<text x="1098.71" y="124.63">-0.027</text>
<text x="1136.18" y="124.63">-0.058</text>
<text x="1173.65" y="124.63">-0.019</text>
<text x="199.44" y="145.54">-0.013</text>
<text x="236.90" y="145.54">0.00053</text>
<text x="274.38" y="145.54">0.014</text>
<text x="311.84" y="145.54">0.011</text>
<text x="349.31" y="145.54">-0.0065</text>
<text x="424.25" y="145.54">0.018</text>
<text x="461.72" y="145.54">-0.021</text>
<text x="499.19" y="145.54">-0.088</text>
<text x="536.66" y="145.54">0.018</text>
<text x="574.13" y="145.54">0.068</text>
<text x="611.61" y="145.54">0.0065</text>
<text x="649.08" y="145.54">0.025</text>
<text x="686.54" y="145.54">0.06</text>
<text x="724.01" y="145.54">0.0099</text>
<text x="761.48" y="145.54">0.024</text>
<text x="798.95" y="145.54">-0.0056</text>
<text x="836.42" y="145.54">0.073</text>
<text x="873.89" y="145.54">-0.15</text>
<text x="911.37" y="145.54">0.031</text>
<text x="948.84" y="145.54">-0.08</text>
<text x="986.31" y="145.54">0.024</text>
<text x="1023.77" y="145.54">0.053</text>
<text x="1061.24" y="145.54">-0.11</text>
<text x="1098.71" y="145.54">0.042</text>
<text x="1136.18" y="145.54">-0.002</text>
<text x="1173.65" y="145.54">0.045</text>
<text x="236.90" y="166.45">-0.09</text>
<text x="349.31" y="166.45">0.17</text>
<text x="386.78" y="166.45">0.018</text>
<text x="461.72" y="166.45">-0.051</text>
<text x="499.19" y="166.45">-0.006</text>
<text x="536.66" y="166.45">0.089</text>
<text x="574.13" y="166.45">-0.081</text>
<text x="611.61" y="166.45">0.15</text>
<text x="649.08" y="166.45">0.073</text>
<text x="686.54" y="166.45">-0.088</text>
<text x="724.01" y="166.45">-0.097</text>
<text x="761.48" y="166.45">0.097</text>
<text x="798.95" y="166.45">-0.065</text>
<text x="836.42" y="166.45">-0.091</text>
<text x="873.89" y="166.45">-0.052</text>
<text x="911.37" y="166.45">-0.026</text>
<text x="948.84" y="166.45">0.056</text>
<text x="986.31" y="166.45">0.041</text>
<text x="1023.77" y="166.45">0.056</text>
<text x="1061.24" y="166.45">-0.11</text>
<text x="1098.71" y="166.45">0.025</text>
<text x="1136.18" y="166.45">-0.054</text>
<text x="1173.65" y="166.45">-0.051</text>
<text x="199.44" y="187.36">-0.061</text>
<text x="236.90" y="187.36">0.044</text>
<text x="274.38" y="187.36">-0.022</text>
<text x="311.84" y="187.36">0.063</text>
<text x="349.31" y="187.36">0.21</text>
<text x="386.78" y="187.36">-0.021</text>
<text x="424.25" y="187.36">-0.051</text>
<text x="574.13" y="187.36">-0.081</text>
<text x="611.61" y="187.36">-0.18</text>
<text x="649.08" y="187.36">-0.069</text>
<text x="686.54" y="187.36">-0.13</text>
<text x="724.01" y="187.36">-0.13</text>
<text x="761.48" y="187.36">-0.045</text>
<text x="798.95" y="187.36">-0.046</text>
<text x="836.42" y="187.36">-0.074</text>
<text x="873.89" y="187.36">-0.094</text>
<text x="911.37" y="187.36">-0.055</text>
<text x="986.31" y="187.36">-0.064</text>
<text x="1023.77" y="187.36">-0.14</text>
<text x="1061.24" y="187.36">0.0078</text>
<text x="1098.71" y="187.36">-0.065</text>
<text x="1136.18" y="187.36">-0.064</text>
<text x="1173.65" y="187.36">0.023</text>
<text x="199.44" y="208.27">-0.069</text>
<text x="236.90" y="208.27">0.037</text>
<text x="274.38" y="208.27">0.018</text>
<text x="311.84" y="208.27">0.075</text>
<text x="349.31" y="208.27">0.22</text>
<text x="386.78" y="208.27">-0.088</text>
<text x="424.25" y="208.27">-0.006</text>
<text x="574.13" y="208.27">-0.037</text>
<text x="611.61" y="208.27">-0.065</text>
<text x="686.54" y="208.27">-0.09</text>
<text x="761.48" y="208.27">0.091</text>
<text x="798.95" y="208.27">-0.034</text>
<text x="836.42" y="208.27">-0.069</text>
<text x="873.89" y="208.27">-0.1</text>
<text x="911.37" y="208.27">-0.043</text>
<text x="948.84" y="208.27">-0.16</text>
<text x="986.31" y="208.27">-0.024</text>
<text x="1023.77" y="208.27">-0.093</text>
<text x="1061.24" y="208.27">-0.043</text>
<text x="1098.71" y="208.27">-0.051</text>
<text x="1136.18" y="208.27">-0.13</text>
<text x="1173.65" y="208.27">-0.041</text>
<text x="199.44" y="229.18">-0.13</text>
<text x="236.90" y="229.18">-0.029</text>
<text x="274.38" y="229.18">0.053</text>
<text x="311.84" y="229.18">0.13</text>
<text x="386.78" y="229.18">0.018</text>
<text x="424.25" y="229.18">0.089</text>
<text x="574.13" y="229.18">-0.057</text>
<text x="611.61" y="229.18">0.033</text>
<text x="649.08" y="229.18">-0.17</text>
<text x="686.54" y="229.18">-0.072</text>
<text x="761.48" y="229.18">0.027</text>
<text x="798.95" y="229.18">-0.016</text>
<text x="836.42" y="229.18">-0.073</text>
<text x="873.89" y="229.18">-0.037</text>
<text x="911.37" y="229.18">0.007</text>
<text x="948.84" y="229.18">-0.14</text>
<text x="986.31" y="229.18">-0.018</text>
<text x="1023.77" y="229.18">-0.066</text>
<text x="1061.24" y="229.18">-0.071</text>
<text x="1098.71" y="229.18">-0.035</text>
<text x="1136.18" y="229.18">-0.093</text>
<text x="1173.65" y="229.18">-0.028</text>
<text x="199.44" y="250.09">0.082</text>
<text x="236.90" y="250.09">0.018</text>
<text x="274.38" y="250.09">-0.1</text>
<text x="311.84" y="250.09">-0.095</text>
<text x="349.31" y="250.09">-0.078</text>
<text x="386.78" y="250.09">0.068</text>
<text x="424.25" y="250.09">-0.081</text>
<text x="461.72" y="250.09">-0.081</text>
<text x="499.19" y="250.09">-0.037</text>
<text x="536.66" y="250.09">-0.057</text>
<text x="611.61" y="250.09">-0.082</text>
<text x="649.08" y="250.09">0.044</text>
<text x="686.54" y="250.09">0.071</text>
<text x="724.01" y="250.09">0.024</text>
<text x="761.48" y="250.09">-0.023</text>
<text x="798.95" y="250.09">-0.065</text>
<text x="836.42" y="250.09">0.23</text>
<text x="873.89" y="250.09">-0.053</text>
<text x="911.37" y="250.09">0.035</text>
<text x="948.84" y="250.09">-0.077</text>
<text x="986.31" y="250.09">-0.028</text>
<text x="1023.77" y="250.09">-0.052</text>
<text x="1061.24" y="250.09">-0.063</text>
<text x="1098.71" y="250.09">-0.023</text>
<text x="1136.18" y="250.09">-0.06</text>
<text x="1173.65" y="250.09">-0.018</text>
<text x="199.44" y="271.00">-0.087</text>
<text x="236.90" y="271.00">-0.045</text>
<text x="274.38" y="271.00">0.17</text>
<text x="311.84" y="271.00">0.14</text>
<text x="349.31" y="271.00">-0.00026</text>
<text x="386.78" y="271.00">0.0065</text>
<text x="424.25" y="271.00">0.15</text>
<text x="461.72" y="271.00">-0.18</text>
<text x="499.19" y="271.00">-0.065</text>
<text x="536.66" y="271.00">0.033</text>
<text x="574.13" y="271.00">-0.082</text>
<text x="686.54" y="271.00">-0.11</text>
<text x="761.48" y="271.00">0.061</text>
<text x="798.95" y="271.00">-0.081</text>
<text x="836.42" y="271.00">-0.14</text>
<text x="873.89" y="271.00">-0.077</text>
<text x="911.37" y="271.00">0.074</text>
<text x="986.31" y="271.00">0.083</text>
<text x="1023.77" y="271.00">0.12</text>
<text x="1061.24" y="271.00">-0.14</text>
<text x="1098.71" y="271.00">0.042</text>
<text x="1136.18" y="271.00">-0.17</text>
<text x="1173.65" y="271.00">-0.058</text>
<text x="199.44" y="291.91">0.042</text>
<text x="236.90" y="291.91">-0.044</text>
<text x="274.38" y="291.91">0.05</text>
<text x="311.84" y="291.91">0.0054</text>
<text x="349.31" y="291.91">-0.066</text>
<text x="386.78" y="291.91">0.025</text>
<text x="424.25" y="291.91">0.073</text>
<text x="461.72" y="291.91">-0.069</text>
<text x="536.66" y="291.91">-0.17</text>
<text x="574.13" y="291.91">0.044</text>
<text x="686.54" y="291.91">0.023</text>
<text x="724.01" y="291.91">0.19</text>
<text x="761.48" y="291.91">-0.075</text>
<text x="798.95" y="291.91">-0.15</text>
<text x="836.42" y="291.91">-0.098</text>
<text x="873.89" y="291.91">-0.11</text>
<text x="911.37" y="291.91">-0.063</text>
<text x="986.31" y="291.91">-0.077</text>
<text x="1023.77" y="291.91">-0.16</text>
<text x="1098.71" y="291.91">-0.056</text>
<text x="1136.18" y="291.91">0.075</text>
<text x="1173.65" y="291.91">-0.06</text>
<text x="199.44" y="312.82">0.086</text>
<text x="236.90" y="312.82">0.0019</text>
<text x="274.38" y="312.82">-0.13</text>
<text x="311.84" y="312.82">-0.13</text>
<text x="349.31" y="312.82">-0.1</text>
<text x="386.78" y="312.82">0.06</text>
<text x="424.25" y="312.82">-0.088</text>
<text x="461.72" y="312.82">-0.13</text>
<text x="499.19" y="312.82">-0.09</text>
<text x="536.66" y="312.82">-0.072</text>
<text x="574.13" y="312.82">0.071</text>
<text x="611.61" y="312.82">-0.11</text>
<text x="649.08" y="312.82">0.023</text>
<text x="761.48" y="312.82">-0.029</text>
<text x="798.95" y="312.82">-0.082</text>
<text x="836.42" y="312.82">0.13</text>
<text x="873.89" y="312.82">-0.066</text>
<text x="911.37" y="312.82">-0.024</text>
<text x="948.84" y="312.82">-0.1</text>
<text x="986.31" y="312.82">-0.0047</text>
<text x="1023.77" y="312.82">-0.065</text>
<text x="1061.24" y="312.82">-0.078</text>
<text x="1098.71" y="312.82">0.083</text>
<text x="1136.18" y="312.82">-0.075</text>
<text x="1173.65" y="312.82">0.16</text>
<text x="199.44" y="333.73">0.085</text>
<text x="236.90" y="333.73">0.024</text>
<text x="274.38" y="333.73">-0.059</text>
<text x="311.84" y="333.73">-0.085</text>
<text x="349.31" y="333.73">-0.1</text>
<text x="386.78" y="333.73">0.0099</text>
<text x="424.25" y="333.73">-0.097</text>
<text x="461.72" y="333.73">-0.13</text>
<text x="574.13" y="333.73">0.024</text>
<text x="649.08" y="333.73">0.19</text>
<text x="761.48" y="333.73">-0.0021</text>
<text x="798.95" y="333.73">0.085</text>
<text x="836.42" y="333.73">0.056</text>
<text x="873.89" y="333.73">0.054</text>
<text x="911.37" y="333.73">0.017</text>
<text x="948.84" y="333.73">0.2</text>
<text x="986.31" y="333.73">-0.13</text>
<text x="1023.77" y="333.73">0.043</text>
<text x="1061.24" y="333.73">0.056</text>
<text x="1098.71" y="333.73">-0.04</text>
<text x="1136.18" y="333.73">0.12</text>
<text x="1173.65" y="333.73">-0.035</text>
<text x="199.44" y="354.64">-0.072</text>
<text x="236.90" y="354.64">-0.056</text>
<text x="274.38" y="354.64">0.065</text>
<text x="311.84" y="354.64">0.055</text>
<text x="349.31" y="354.64">0.0073</text>
<text x="386.78" y="354.64">0.024</text>
<text x="424.25" y="354.64">0.097</text>
<text x="461.72" y="354.64">-0.045</text>
<text x="499.19" y="354.64">0.091</text>
<text x="536.66" y="354.64">0.027</text>
<text x="574.13" y="354.64">-0.023</text>
<text x="611.61" y="354.64">0.061</text>
<text x="649.08" y="354.64">-0.075</text>
<text x="686.54" y="354.64">-0.029</text>
<text x="724.01" y="354.64">-0.0021</text>
<text x="798.95" y="354.64">-0.012</text>
<text x="836.42" y="354.64">-0.029</text>
<text x="873.89" y="354.64">0.0011</text>
<text x="911.37" y="354.64">-0.012</text>
<text x="948.84" y="354.64">-0.056</text>
<text x="986.31" y="354.64">-0.017</text>
<text x="1023.77" y="354.64">0.0016</text>
<text x="1061.24" y="354.64">-0.039</text>
<text x="1098.71" y="354.64">-0.014</text>
<text x="1136.18" y="354.64">-0.037</text>
<text x="1173.65" y="354.64">-0.011</text>
<text x="199.44" y="375.55">0.01</text>
<text x="236.90" y="375.55">0.013</text>
<text x="274.38" y="375.55">-0.051</text>
<text x="311.84" y="375.55">-0.028</text>
<text x="349.31" y="375.55">0.009</text>
<text x="386.78" y="375.55">-0.0056</text>
<text x="424.25" y="375.55">-0.065</text>
<text x="461.72" y="375.55">-0.046</text>
<text x="499.19" y="375.55">-0.034</text>
<text x="536.66" y="375.55">-0.016</text>
<text x="574.13" y="375.55">-0.065</text>
<text x="611.61" y="375.55">-0.081</text>
<text x="649.08" y="375.55">-0.15</text>
<text x="686.54" y="375.55">-0.082</text>
<text x="724.01" y="375.55">0.085</text>
<text x="761.48" y="375.55">-0.012</text>
<text x="836.42" y="375.55">-0.055</text>
<text x="911.37" y="375.55">-0.034</text>
<text x="948.84" y="375.55">-0.031</text>
<text x="986.31" y="375.55">-0.027</text>
<text x="1023.77" y="375.55">-0.039</text>
<text x="1061.24" y="375.55">0.0024</text>
<text x="1098.71" y="375.55">-0.04</text>
<text x="1136.18" y="375.55">-0.094</text>
<text x="1173.65" y="375.55">-0.032</text>
<text x="199.44" y="396.46">0.042</text>
<text x="236.90" y="396.46">0.044</text>
<text x="274.38" y="396.46">-0.099</text>
<text x="311.84" y="396.46">-0.11</text>
<text x="349.31" y="396.46">-0.09</text>
<text x="386.78" y="396.46">0.073</text>
<text x="424.25" y="396.46">-0.091</text>
<text x="461.72" y="396.46">-0.074</text>
<text x="499.19" y="396.46">-0.069</text>
<text x="536.66" y="396.46">-0.073</text>
<text x="574.13" y="396.46">0.23</text>
<text x="611.61" y="396.46">-0.14</text>
<text x="649.08" y="396.46">-0.098</text>
<text x="686.54" y="396.46">0.13</text>
<text x="724.01" y="396.46">0.056</text>
<text x="761.48" y="396.46">-0.029</text>
<text x="798.95" y="396.46">-0.055</text>
<text x="873.89" y="396.46">-0.067</text>
<text x="911.37" y="396.46">-0.025</text>
<text x="948.84" y="396.46">-0.12</text>
<text x="986.31" y="396.46">-0.036</text>
<text x="1023.77" y="396.46">0.071</text>
<text x="1061.24" y="396.46">-0.065</text>
<text x="1098.71" y="396.46">0.0074</text>
<text x="1136.18" y="396.46">-0.062</text>
<text x="1173.65" y="396.46">0.2</text>
<text x="199.44" y="417.37">0.041</text>
<text x="236.90" y="417.37">-0.016</text>
<text x="274.38" y="417.37">-0.046</text>
<text x="311.84" y="417.37">-0.044</text>
<text x="349.31" y="417.37">-0.018</text>
<text x="386.78" y="417.37">-0.15</text>
<text x="424.25" y="417.37">-0.052</text>
<text x="461.72" y="417.37">-0.094</text>
<text x="499.19" y="417.37">-0.1</text>
<text x="536.66" y="417.37">-0.037</text>
<text x="574.13" y="417.37">-0.053</text>
<text x="611.61" y="417.37">-0.077</text>
<text x="649.08" y="417.37">-0.11</text>
<text x="686.54" y="417.37">-0.066</text>
<text x="724.01" y="417.37">0.054</text>
<text x="761.48" y="417.37">0.0011</text>
<text x="836.42" y="417.37">-0.067</text>
<text x="911.37" y="417.37">-0.027</text>
<text x="948.84" y="417.37">-0.026</text>
<text x="986.31" y="417.37">-0.04</text>
<text x="1023.77" y="417.37">-0.042</text>
<text x="1061.24" y="417.37">-0.034</text>
<text x="1098.71" y="417.37">-0.032</text>
<text x="1136.18" y="417.37">-0.016</text>
<text x="1173.65" y="417.37">-0.026</text>
<text x="199.44" y="438.28">-0.0052</text>
<text x="236.90" y="438.28">0.031</text>
<text x="274.38" y="438.28">-0.029</text>
<text x="311.84" y="438.28">-0.02</text>
<text x="349.31" y="438.28">0.0052</text>
<text x="386.78" y="438.28">0.031</text>
<text x="424.25" y="438.28">-0.026</text>
<text x="461.72" y="438.28">-0.055</text>
<text x="499.19" y="438.28">-0.043</text>
<text x="536.66" y="438.28">0.007</text>
<text x="574.13" y="438.28">0.035</text>
<text x="611.61" y="438.28">0.074</text>
<text x="649.08" y="438.28">-0.063</text>
<text x="686.54" y="438.28">-0.024</text>
<text x="724.01" y="438.28">0.017</text>
<text x="761.48" y="438.28">-0.012</text>
<text x="798.95" y="438.28">-0.034</text>
<text x="836.42" y="438.28">-0.025</text>
<text x="873.89" y="438.28">-0.027</text>
<text x="948.84" y="438.28">-0.047</text>
<text x="986.31" y="438.28">0.13</text>
<text x="1023.77" y="438.28">-0.027</text>
<text x="1061.24" y="438.28">-0.033</text>
<text x="1098.71" y="438.28">-0.012</text>
<text x="1136.18" y="438.28">-0.031</text>
<text x="1173.65" y="438.28">-0.0096</text>
<text x="199.44" y="459.19">-0.038</text>
<text x="236.90" y="459.19">0.061</text>
<text x="274.38" y="459.19">0.034</text>
<text x="311.84" y="459.19">-0.0075</text>
<text x="349.31" y="459.19">-0.051</text>
<text x="386.78" y="459.19">-0.08</text>
<text x="424.25" y="459.19">0.056</text>
<text x="499.19" y="459.19">-0.16</text>
<text x="536.66" y="459.19">-0.14</text>
<text x="574.13" y="459.19">-0.077</text>
<text x="686.54" y="459.19">-0.1</text>
<text x="724.01" y="459.19">0.2</text>
<text x="761.48" y="459.19">-0.056</text>
<text x="798.95" y="459.19">-0.031</text>
<text x="836.42" y="459.19">-0.12</text>
<text x="873.89" y="459.19">-0.026</text>
<text x="911.37" y="459.19">-0.047</text>
<text x="986.31" y="459.19">-0.069</text>
<text x="1023.77" y="459.19">-0.12</text>
<text x="1061.24" y="459.19">0.06</text>
<text x="1098.71" y="459.19">-0.056</text>
<text x="1136.18" y="459.19">0.0081</text>
<text x="1173.65" y="459.19">-0.045</text>
<text x="199.44" y="480.10">0.0028</text>
<text x="236.90" y="480.10">-0.068</text>
<text x="274.38" y="480.10">0.06</text>
<text x="311.84" y="480.10">0.0077</text>
<text x="349.31" y="480.10">-0.033</text>
<text x="386.78" y="480.10">0.024</text>
<text x="424.25" y="480.10">0.041</text>
<text x="461.72" y="480.10">-0.064</text>
<text x="499.19" y="480.10">-0.024</text>
<text x="536.66" y="480.10">-0.018</text>
<text x="574.13" y="480.10">-0.028</text>
<text x="611.61" y="480.10">0.083</text>
<text x="649.08" y="480.10">-0.077</text>
<text x="686.54" y="480.10">-0.0047</text>
<text x="724.01" y="480.10">-0.13</text>
<text x="761.48" y="480.10">-0.017</text>
<text x="798.95" y="480.10">-0.027</text>
<text x="836.42" y="480.10">-0.036</text>
<text x="873.89" y="480.10">-0.04</text>
<text x="911.37" y="480.10">0.13</text>
<text x="948.84" y="480.10">-0.069</text>
<text x="1023.77" y="480.10">-0.04</text>
<text x="1061.24" y="480.10">-0.024</text>
<text x="1098.71" y="480.10">-0.017</text>
<text x="1136.18" y="480.10">-0.046</text>
<text x="1173.65" y="480.10">-0.014</text>
<text x="199.44" y="501.01">-0.063</text>
<text x="236.90" y="501.01">0.014</text>
<text x="274.38" y="501.01">0.066</text>
<text x="311.84" y="501.01">0.1</text>
<text x="349.31" y="501.01">0.0084</text>
<text x="386.78" y="501.01">0.053</text>
<text x="424.25" y="501.01">0.056</text>
<text x="461.72" y="501.01">-0.14</text>
<text x="499.19" y="501.01">-0.093</text>
<text x="536.66" y="501.01">-0.066</text>
<text x="574.13" y="501.01">-0.052</text>
<text x="611.61" y="501.01">0.12</text>
<text x="649.08" y="501.01">-0.16</text>
<text x="686.54" y="501.01">-0.065</text>
<text x="724.01" y="501.01">0.043</text>
<text x="761.48" y="501.01">0.0016</text>
<text x="798.95" y="501.01">-0.039</text>
<text x="836.42" y="501.01">0.071</text>
<text x="873.89" y="501.01">-0.042</text>
<text x="911.37" y="501.01">-0.027</text>
<text x="948.84" y="501.01">-0.12</text>
<text x="986.31" y="501.01">-0.04</text>
<text x="1061.24" y="501.01">-0.047</text>
<text x="1098.71" y="501.01">0.0016</text>
<text x="1136.18" y="501.01">-0.07</text>
<text x="1173.65" y="501.01">-0.026</text>
<text x="199.44" y="521.92">0.07</text>
<text x="236.90" y="521.92">0.058</text>
<text x="274.38" y="521.92">-0.095</text>
<text x="311.84" y="521.92">-0.089</text>
<text x="349.31" y="521.92">-0.03</text>
<text x="386.78" y="521.92">-0.11</text>
<text x="424.25" y="521.92">-0.11</text>
<text x="461.72" y="521.92">0.0078</text>
<text x="499.19" y="521.92">-0.043</text>
<text x="536.66" y="521.92">-0.071</text>
<text x="574.13" y="521.92">-0.063</text>
<text x="611.61" y="521.92">-0.14</text>
<text x="686.54" y="521.92">-0.078</text>
<text x="724.01" y="521.92">0.056</text>
<text x="761.48" y="521.92">-0.039</text>
<text x="798.95" y="521.92">0.0024</text>
<text x="836.42" y="521.92">-0.065</text>
<text x="873.89" y="521.92">-0.034</text>
<text x="911.37" y="521.92">-0.033</text>
<text x="948.84" y="521.92">0.06</text>
<text x="986.31" y="521.92">-0.024</text>
<text x="1023.77" y="521.92">-0.047</text>
<text x="1098.71" y="521.92">-0.039</text>
<text x="1136.18" y="521.92">0.078</text>
<text x="1173.65" y="521.92">-0.031</text>
<text x="199.44" y="542.83">-0.0021</text>
<text x="236.90" y="542.83">-0.02</text>
<text x="274.38" y="542.83">0.013</text>
<text x="311.84" y="542.83">-0.0032</text>
<text x="349.31" y="542.83">-0.027</text>
<text x="386.78" y="542.83">0.042</text>
<text x="424.25" y="542.83">0.025</text>
<text x="461.72" y="542.83">-0.065</text>
<text x="499.19" y="542.83">-0.051</text>
<text x="536.66" y="542.83">-0.035</text>
<text x="574.13" y="542.83">-0.023</text>
<text x="611.61" y="542.83">0.042</text>
<text x="649.08" y="542.83">-0.056</text>
<text x="686.54" y="542.83">0.083</text>
<text x="724.01" y="542.83">-0.04</text>
<text x="761.48" y="542.83">-0.014</text>
<text x="798.95" y="542.83">-0.04</text>
<text x="836.42" y="542.83">0.0074</text>
<text x="873.89" y="542.83">-0.032</text>
<text x="911.37" y="542.83">-0.012</text>
<text x="948.84" y="542.83">-0.056</text>
<text x="986.31" y="542.83">-0.017</text>
<text x="1023.77" y="542.83">0.0016</text>
<text x="1061.24" y="542.83">-0.039</text>
<text x="1136.18" y="542.83">-0.037</text>
<text x="1173.65" y="542.83">-0.011</text>
<text x="199.44" y="563.74">0.12</text>
<text x="236.90" y="563.74">-0.095</text>
<text x="274.38" y="563.74">-0.058</text>
<text x="311.84" y="563.74">-0.078</text>
<text x="349.31" y="563.74">-0.058</text>
<text x="386.78" y="563.74">-0.002</text>
<text x="424.25" y="563.74">-0.054</text>
<text x="461.72" y="563.74">-0.064</text>
<text x="499.19" y="563.74">-0.13</text>
<text x="536.66" y="563.74">-0.093</text>
<text x="574.13" y="563.74">-0.06</text>
<text x="611.61" y="563.74">-0.17</text>
<text x="649.08" y="563.74">0.075</text>
<text x="686.54" y="563.74">-0.075</text>
<text x="724.01" y="563.74">0.12</text>
<text x="761.48" y="563.74">-0.037</text>
<text x="798.95" y="563.74">-0.094</text>
<text x="836.42" y="563.74">-0.062</text>
<text x="873.89" y="563.74">-0.016</text>
<text x="911.37" y="563.74">-0.031</text>
<text x="948.84" y="563.74">0.0081</text>
<text x="986.31" y="563.74">-0.046</text>
<text x="1023.77" y="563.74">-0.07</text>
<text x="1061.24" y="563.74">0.078</text>
<text x="1098.71" y="563.74">-0.037</text>
<text x="1173.65" y="563.74">0.0074</text>
<text x="199.44" y="584.65">0.023</text>
<text x="236.90" y="584.65">0.025</text>
<text x="274.38" y="584.65">-0.048</text>
<text x="311.84" y="584.65">-0.04</text>
<text x="349.31" y="584.65">-0.019</text>
<text x="386.78" y="584.65">0.045</text>
<text x="424.25" y="584.65">-0.051</text>
<text x="461.72" y="584.65">0.023</text>
<text x="499.19" y="584.65">-0.041</text>
<text x="536.66" y="584.65">-0.028</text>
<text x="574.13" y="584.65">-0.018</text>
<text x="611.61" y="584.65">-0.058</text>
<text x="649.08" y="584.65">-0.06</text>
<text x="686.54" y="584.65">0.16</text>
<text x="724.01" y="584.65">-0.035</text>
<text x="761.48" y="584.65">-0.011</text>
<text x="798.95" y="584.65">-0.032</text>
<text x="836.42" y="584.65">0.2</text>
<text x="873.89" y="584.65">-0.026</text>
<text x="911.37" y="584.65">-0.0096</text>
<text x="948.84" y="584.65">-0.045</text>
<text x="986.31" y="584.65">-0.014</text>
<text x="1023.77" y="584.65">-0.026</text>
<text x="1061.24" y="584.65">-0.031</text>
<text x="1098.71" y="584.65">-0.011</text>
<text x="1136.18" y="584.65">0.0074</text>
</g>
<g fill="#fff" text-anchor="middle" transform="scale(1,1.05)">
<text x="199.44" y="41.00">1</text>
<text x="236.90" y="41.00">-0.35</text>
<text x="274.38" y="41.00">-0.55</text>
<text x="311.84" y="41.00">-0.53</text>
<text x="349.31" y="41.00">-0.24</text>
<text x="424.25" y="41.00">-0.59</text>
<text x="199.44" y="61.91">-0.35</text>
<text x="236.90" y="61.91">1</text>
<text x="199.44" y="82.82">-0.55</text>
<text x="274.38" y="82.82">1</text>
<text x="311.84" y="82.82">0.87</text>
<text x="424.25" y="82.82">0.84</text>
<text x="199.44" y="103.72">-0.53</text>
<text x="274.38" y="103.72">0.87</text>
<text x="311.84" y="103.72">1</text>
<text x="349.31" y="103.72">0.45</text>
<text x="424.25" y="103.72">0.73</text>
<text x="199.44" y="124.63">-0.24</text>
<text x="311.84" y="124.63">0.45</text>
<text x="349.31" y="124.63">1</text>
<text x="536.66" y="124.63">0.3</text>
<text x="386.78" y="145.54">1</text>
<text x="199.44" y="166.45">-0.59</text>
<text x="274.38" y="166.45">0.84</text>
<text x="311.84" y="166.45">0.73</text>
<text x="424.25" y="166.45">1</text>
<text x="461.72" y="187.36">1</text>
<text x="499.19" y="187.36">0.45</text>
<text x="536.66" y="187.36">0.28</text>
<text x="948.84" y="187.36">-0.2</text>
<text x="461.72" y="208.27">0.45</text>
<text x="499.19" y="208.27">1</text>
<text x="536.66" y="208.27">0.38</text>
<text x="649.08" y="208.27">-0.2</text>
<text x="724.01" y="208.27">-0.23</text>
<text x="349.31" y="229.18">0.3</text>
<text x="461.72" y="229.18">0.28</text>
<text x="499.19" y="229.18">0.38</text>
<text x="536.66" y="229.18">1</text>
<text x="724.01" y="229.18">-0.32</text>
<text x="574.13" y="250.09">1</text>
<text x="611.61" y="271.00">1</text>
<text x="649.08" y="271.00">-0.23</text>
<text x="724.01" y="271.00">-0.34</text>
<text x="948.84" y="271.00">-0.25</text>
<text x="499.19" y="291.91">-0.2</text>
<text x="611.61" y="291.91">-0.23</text>
<text x="649.08" y="291.91">1</text>
<text x="948.84" y="291.91">0.32</text>
<text x="1061.24" y="291.91">-0.2</text>
<text x="686.54" y="312.82">1</text>
<text x="724.01" y="312.82">-0.36</text>
<text x="499.19" y="333.73">-0.23</text>
<text x="536.66" y="333.73">-0.32</text>
<text x="611.61" y="333.73">-0.34</text>
<text x="686.54" y="333.73">-0.36</text>
<text x="724.01" y="333.73">1</text>
<text x="761.48" y="354.64">1</text>
<text x="798.95" y="375.55">1</text>
<text x="873.89" y="375.55">0.25</text>
<text x="836.42" y="396.46">1</text>
<text x="798.95" y="417.37">0.25</text>
<text x="873.89" y="417.37">1</text>
<text x="911.37" y="438.28">1</text>
<text x="461.72" y="459.19">-0.2</text>
<text x="611.61" y="459.19">-0.25</text>
<text x="649.08" y="459.19">0.32</text>
<text x="948.84" y="459.19">1</text>
<text x="986.31" y="480.10">1</text>
<text x="1023.77" y="501.01">1</text>
<text x="649.08" y="521.92">-0.2</text>
<text x="1061.24" y="521.92">1</text>
<text x="1098.71" y="542.83">1</text>
<text x="1136.18" y="563.74">1</text>
<text x="1173.65" y="584.65">1</text>
</g>
<g stroke="#000" stroke-width="0.9">
<line x1="177.10" x2="181.00" y1="38.19" y2="38.19"/>
<line x1="177.10" x2="181.00" y1="60.16" y2="60.16"/>
<line x1="177.10" x2="181.00" y1="82.12" y2="82.12"/>
<line x1="177.10" x2="181.00" y1="104.09" y2="104.09"/>
<line x1="177.10" x2="181.00" y1="126.06" y2="126.06"/>
<line x1="177.10" x2="181.00" y1="148.03" y2="148.03"/>
<line x1="177.10" x2="181.00" y1="170.00" y2="170.00"/>
<line x1="177.10" x2="181.00" y1="191.97" y2="191.97"/>
<line x1="177.10" x2="181.00" y1="213.94" y2="213.94"/>
<line x1="177.10" x2="181.00" y1="235.91" y2="235.91"/>
<line x1="177.10" x2="181.00" y1="257.89" y2="257.89"/>
<line x1="177.10" x2="181.00" y1="279.86" y2="279.86"/>
<line x1="177.10" x2="181.00" y1="301.83" y2="301.83"/>
<line x1="177.10" x2="181.00" y1="323.80" y2="323.80"/>
<line x1="177.10" x2="181.00" y1="345.77" y2="345.77"/>
<line x1="177.10" x2="181.00" y1="367.74" y2="367.74"/>
<line x1="177.10" x2="181.00" y1="389.71" y2="389.71"/>
<line x1="177.10" x2="181.00" y1="411.68" y2="411.68"/>
<line x1="177.10" x2="181.00" y1="433.65" y2="433.65"/>
<line x1="177.10" x2="181.00" y1="455.62" y2="455.62"/>
<line x1="177.10" x2="181.00" y1="477.59" y2="477.59"/>
<line x1="177.10" x2="181.00" y1="499.56" y2="499.56"/>
<line x1="177.10" x2="181.00" y1="521.52" y2="521.52"/>
<line x1="177.10" x2="181.00" y1="543.50" y2="543.50"/>
<line x1="177.10" x2="181.00" y1="565.47" y2="565.47"/>
<line x1="177.10" x2="181.00" y1="587.44" y2="587.44"/>
<line x1="177.10" x2="181.00" y1="609.40" y2="609.40"/>
<line x1="200.60" x2="200.60" y1="631.50" y2="635.90"/>
<line x1="238.01" x2="238.01" y1="631.50" y2="635.90"/>
<line x1="275.42" x2="275.42" y1="631.50" y2="635.90"/>
<line x1="312.83" x2="312.83" y1="631.50" y2="635.90"/>
<line x1="350.24" x2="350.24" y1="631.50" y2="635.90"/>
<line x1="387.65" x2="387.65" y1="631.50" y2="635.90"/>
<line x1="425.06" x2="425.06" y1="631.50" y2="635.90"/>
<line x1="462.47" x2="462.47" y1="631.50" y2="635.90"/>
<line x1="499.88" x2="499.88" y1="631.50" y2="635.90"/>
<line x1="537.29" x2="537.29" y1="631.50" y2="635.90"/>
<line x1="574.70" x2="574.70" y1="631.50" y2="635.90"/>
<line x1="612.11" x2="612.11" y1="631.50" y2="635.90"/>
<line x1="649.52" x2="649.52" y1="631.50" y2="635.90"/>
<line x1="686.93" x2="686.93" y1="631.50" y2="635.90"/>
<line x1="724.34" x2="724.34" y1="631.50" y2="635.90"/>
<line x1="761.75" x2="761.75" y1="631.50" y2="635.90"/>
<line x1="799.16" x2="799.16" y1="631.50" y2="635.90"/>
<line x1="836.57" x2="836.57" y1="631.50" y2="635.90"/>
<line x1="873.98" x2="873.98" y1="631.50" y2="635.90"/>
<line x1="911.39" x2="911.39" y1="631.50" y2="635.90"/>
<line x1="948.80" x2="948.80" y1="631.50" y2="635.90"/>
<line x1="986.21" x2="986.21" y1="631.50" y2="635.90"/>
<line x1="1023.62" x2="1023.62" y1="631.50" y2="635.90"/>
<line x1="1061.03" x2="1061.03" y1="631.50" y2="635.90"/>
<line x1="1098.44" x2="1098.44" y1="631.50" y2="635.90"/>
<line x1="1135.85" x2="1135.85" y1="631.50" y2="635.90"/>
<line x1="1173.26" x2="1173.26" y1="631.50" y2="635.90"/>
<line x1="1286.30" x2="1290.90" y1="15.80" y2="15.80"/>
<line x1="1286.30" x2="1290.90" y1="92.81" y2="92.81"/>
<line x1="1286.30" x2="1290.90" y1="169.83" y2="169.83"/>
<line x1="1286.30" x2="1290.90" y1="246.84" y2="246.84"/>
<line x1="1286.30" x2="1290.90" y1="323.85" y2="323.85"/>
<line x1="1286.30" x2="1290.90" y1="400.86" y2="400.86"/>
<line x1="1286.30" x2="1290.90" y1="477.88" y2="477.88"/>
<line x1="1286.30" x2="1290.90" y1="554.89" y2="554.89"/>
<line x1="1286.30" x2="1290.90" y1="631.90" y2="631.90"/>
</g>
<g fill="#000">
<g text-anchor="end" transform="scale(1,1.05)">
<text x="172.50" y="42.48">Start_Year</text>
<text x="172.50" y="63.34">End_Year</text>
<text x="172.50" y="84.21">Num_of_Seasons</text>
<text x="172.50" y="105.08">Num_of_Episodes</text>
<text x="172.50" y="125.94">Num_Episodes_Per_Season</text>
<text x="172.50" y="146.81">Season_1_Rating</text>
<text x="172.50" y="167.68">Years_Ran</text>
<text x="172.50" y="188.54">Action</text>
<text x="172.50" y="209.41">Adventure</text>
<text x="172.50" y="230.28">Animation</text>
<text x="172.50" y="251.14">Biography</text>
<text x="172.50" y="272.01">Comedy</text>
<text x="172.50" y="292.88">Crime</text>
<text x="172.50" y="313.74">Documentary</text>
<text x="172.50" y="334.61">Drama</text>
<text x="172.50" y="355.48">Family</text>
<text x="172.50" y="376.34">Fantasy</text>
<text x="172.50" y="397.21">History</text>
<text x="172.50" y="418.08">Horror</text>
<text x="172.50" y="438.94">Music</text>
<text x="172.50" y="459.81">Mystery</text>
<text x="172.50" y="480.68">Other</text>
<text x="172.50" y="501.54">Romance</text>
<text x="172.50" y="522.41">Sci-fi</text>
<text x="172.50" y="543.28">Sport</text>
<text x="172.50" y="564.14">Thriller</text>
<text x="172.50" y="585.01">War</text>
</g><g text-anchor="end">
<text transform="translate(203.12,642.50) rotate(-90) scale(1,1.05)">Start_Year</text>
<text transform="translate(240.56,642.50) rotate(-90) scale(1,1.05)">End_Year</text>
<text transform="translate(278.00,642.50) rotate(-90) scale(1,1.05)">Num_of_Seasons</text>
<text transform="translate(315.44,642.50) rotate(-90) scale(1,1.05)">Num_of_Episodes</text>
<text transform="translate(352.88,642.50) rotate(-90) scale(1,1.05)">Num_Episodes_Per_Season</text>
<text transform="translate(390.32,642.50) rotate(-90) scale(1,1.05)">Season_1_Rating</text>
<text transform="translate(427.76,642.50) rotate(-90) scale(1,1.05)">Years_Ran</text>
<text transform="translate(465.20,642.50) rotate(-90) scale(1,1.05)">Action</text>
<text transform="translate(502.64,642.50) rotate(-90) scale(1,1.05)">Adventure</text>
<text transform="translate(540.08,642.50) rotate(-90) scale(1,1.05)">Animation</text>
<text transform="translate(577.52,642.50) rotate(-90) scale(1,1.05)">Biography</text>
<text transform="translate(614.96,642.50) rotate(-90) scale(1,1.05)">Comedy</text>
<text transform="translate(652.40,642.50) rotate(-90) scale(1,1.05)">Crime</text>
<text transform="translate(689.84,642.50) rotate(-90) scale(1,1.05)">Documentary</text>
<text transform="translate(727.28,642.50) rotate(-90) scale(1,1.05)">Drama</text>
<text transform="translate(764.72,642.50) rotate(-90) scale(1,1.05)">Family</text>
<text transform="translate(802.16,642.50) rotate(-90) scale(1,1.05)">Fantasy</text>
<text transform="translate(839.60,642.50) rotate(-90) scale(1,1.05)">History</text>
<text transform="translate(877.04,642.50) rotate(-90) scale(1,1.05)">Horror</text>
<text transform="translate(914.48,642.50) rotate(-90) scale(1,1.05)">Music</text>
<text transform="translate(951.92,642.50) rotate(-90) scale(1,1.05)">Mystery</text>
<text transform="translate(989.36,642.50) rotate(-90) scale(1,1.05)">Other</text>
<text transform="translate(1026.80,642.50) rotate(-90) scale(1,1.05)">Romance</text>
<text transform="translate(1064.24,642.50) rotate(-90) scale(1,1.05)">Sci-fi</text>
<text transform="translate(1101.68,642.50) rotate(-90) scale(1,1.05)">Sport</text>
<text transform="translate(1139.12,642.50) rotate(-90) scale(1,1.05)">Thriller</text>
<text transform="translate(1176.56,642.50) rotate(-90) scale(1,1.05)">War</text>
</g><g transform="scale(1,1.05)">
<text x="1293.80" y="19.81">1.00</text>
<text x="1293.80" y="93.23">0.75</text>
<text x="1293.80" y="166.64">0.50</text>
<text x="1293.80" y="240.06">0.25</text>
<text x="1293.80" y="313.48">0.00</text>
<text x="1293.80" y="386.89">−0.25</text>
<text x="1293.80" y="460.31">−0.50</text>
<text x="1293.80" y="533.73">−0.75</text>
<text x="1293.80" y="607.14">−1.00</text>
</g></g>
<rect x="1255.70" y="15.30" width="30.30" height="615.60" fill="url(#cb)"/>
</g>
</svg>
</body></html>
